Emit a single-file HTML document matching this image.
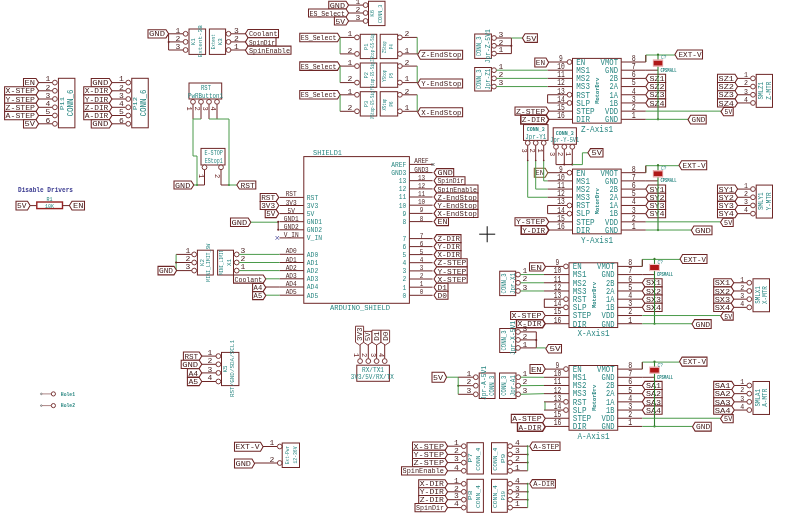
<!DOCTYPE html>
<html><head><meta charset="utf-8"><style>
html,body{margin:0;padding:0;background:#fff;}
svg{display:block;font-family:"Liberation Mono", monospace;filter:blur(0.3px);}
</style></head><body>
<svg width="800" height="524" viewBox="0 0 800 524">
<rect x="0" y="0" width="800" height="524" fill="#fff"/>
<polygon points="148,29.7 166,29.7 168.6,33.8 166,37.9 148,37.9" fill="#fff" stroke="#6e2626" stroke-width="1.05"/>
<text x="157" y="36.44" font-size="8.0" fill="#48201f" text-anchor="middle" textLength="16" lengthAdjust="spacingAndGlyphs">GND</text>
<line x1="168.6" y1="33.8" x2="183.2" y2="33.8" stroke="#6e2626" stroke-width="1.0"/>
<line x1="168.6" y1="33.8" x2="168.6" y2="50" stroke="#6e2626" stroke-width="1.0"/>
<line x1="168.6" y1="41.9" x2="183.2" y2="41.9" stroke="#6e2626" stroke-width="1.0"/>
<line x1="168.6" y1="50" x2="183.2" y2="50" stroke="#6e2626" stroke-width="1.0"/>
<circle cx="168.6" cy="41.9" r="1.0" fill="#6e2626"/>
<text x="178" y="32.6" font-size="8.0" fill="#4a1f1f" text-anchor="middle">1</text>
<circle cx="185.6" cy="33.8" r="2.4" fill="#fff" stroke="#6e2626" stroke-width="0.9"/>
<text x="178" y="40.7" font-size="8.0" fill="#4a1f1f" text-anchor="middle">2</text>
<circle cx="185.6" cy="41.9" r="2.4" fill="#fff" stroke="#6e2626" stroke-width="0.9"/>
<text x="178" y="48.8" font-size="8.0" fill="#4a1f1f" text-anchor="middle">3</text>
<circle cx="185.6" cy="50" r="2.4" fill="#fff" stroke="#6e2626" stroke-width="0.9"/>
<rect x="189" y="29" width="16.6" height="25.4" fill="none" stroke="#6e2626" stroke-width="1.0"/>
<text x="195.41" y="41.7" font-size="5.3" fill="#2a8782" text-anchor="middle" textLength="7" lengthAdjust="spacingAndGlyphs" transform="rotate(-90 195.41 41.7)">K1</text>
<text x="202.1" y="41.3" font-size="5.0" fill="#2a8782" text-anchor="middle" textLength="32" lengthAdjust="spacingAndGlyphs" transform="rotate(-90 202.1 41.3)">Extent-3B</text>
<rect x="209.4" y="29" width="16.2" height="25.4" fill="none" stroke="#6e2626" stroke-width="1.0"/>
<text x="214.8" y="41.7" font-size="5.0" fill="#2a8782" text-anchor="middle" textLength="15" lengthAdjust="spacingAndGlyphs" transform="rotate(-90 214.8 41.7)">Extent</text>
<text x="221.91" y="41.7" font-size="5.3" fill="#2a8782" text-anchor="middle" textLength="7" lengthAdjust="spacingAndGlyphs" transform="rotate(-90 221.91 41.7)">K3</text>
<circle cx="228.5" cy="33.8" r="2.4" fill="#fff" stroke="#6e2626" stroke-width="0.9"/>
<text x="236.5" y="32.6" font-size="8.0" fill="#4a1f1f" text-anchor="middle">3</text>
<line x1="230.9" y1="33.8" x2="245.6" y2="33.8" stroke="#6e2626" stroke-width="1.0"/>
<circle cx="228.5" cy="41.9" r="2.4" fill="#fff" stroke="#6e2626" stroke-width="0.9"/>
<text x="236.5" y="40.7" font-size="8.0" fill="#4a1f1f" text-anchor="middle">2</text>
<line x1="230.9" y1="41.9" x2="245.6" y2="41.9" stroke="#6e2626" stroke-width="1.0"/>
<circle cx="228.5" cy="50" r="2.4" fill="#fff" stroke="#6e2626" stroke-width="0.9"/>
<text x="236.5" y="48.8" font-size="8.0" fill="#4a1f1f" text-anchor="middle">1</text>
<line x1="230.9" y1="50" x2="245.6" y2="50" stroke="#6e2626" stroke-width="1.0"/>
<polygon points="245.4,33.5 248,29.4 278.5,29.4 278.5,37.6 248,37.6" fill="#fff" stroke="#6e2626" stroke-width="1.05"/>
<text x="263.25" y="36.14" font-size="8.0" fill="#48201f" text-anchor="middle" textLength="28.5" lengthAdjust="spacingAndGlyphs">Coolant</text>
<polygon points="245.4,41.9 248,37.8 276,37.8 276,46 248,46" fill="#fff" stroke="#6e2626" stroke-width="1.05"/>
<text x="262" y="44.54" font-size="8.0" fill="#48201f" text-anchor="middle" textLength="26" lengthAdjust="spacingAndGlyphs">SpinDir</text>
<polygon points="245.4,50.2 248,46.1 291,46.1 291,54.3 248,54.3" fill="#fff" stroke="#6e2626" stroke-width="1.05"/>
<text x="269.5" y="52.84" font-size="8.0" fill="#48201f" text-anchor="middle" textLength="41" lengthAdjust="spacingAndGlyphs">SpinEnable</text>
<polygon points="328.75,1.15 346,1.15 348.6,5.1 346,9.05 328.75,9.05" fill="#fff" stroke="#6e2626" stroke-width="1.05"/>
<text x="337.38" y="7.74" font-size="8.0" fill="#48201f" text-anchor="middle" textLength="15.25" lengthAdjust="spacingAndGlyphs">GND</text>
<line x1="348.6" y1="5.1" x2="363.2" y2="5.1" stroke="#6e2626" stroke-width="1.0"/>
<circle cx="365.6" cy="5.1" r="2.4" fill="#fff" stroke="#6e2626" stroke-width="0.9"/>
<polygon points="308.5,9.05 346,9.05 348.6,13 346,16.95 308.5,16.95" fill="#fff" stroke="#6e2626" stroke-width="1.05"/>
<text x="327.25" y="15.64" font-size="8.0" fill="#48201f" text-anchor="middle" textLength="35.5" lengthAdjust="spacingAndGlyphs">ES_Select</text>
<line x1="348.6" y1="13" x2="363.2" y2="13" stroke="#6e2626" stroke-width="1.0"/>
<circle cx="365.6" cy="13" r="2.4" fill="#fff" stroke="#6e2626" stroke-width="0.9"/>
<polygon points="334.4,17.05 346,17.05 348.6,21 346,24.95 334.4,24.95" fill="#fff" stroke="#6e2626" stroke-width="1.05"/>
<text x="340.2" y="23.64" font-size="8.0" fill="#48201f" text-anchor="middle" textLength="9.6" lengthAdjust="spacingAndGlyphs">5V</text>
<line x1="348.6" y1="21" x2="363.2" y2="21" stroke="#6e2626" stroke-width="1.0"/>
<circle cx="365.6" cy="21" r="2.4" fill="#fff" stroke="#6e2626" stroke-width="0.9"/>
<text x="358" y="4" font-size="8.0" fill="#4a1f1f" text-anchor="middle">1</text>
<text x="358" y="11.8" font-size="8.0" fill="#4a1f1f" text-anchor="middle">2</text>
<text x="358" y="19.8" font-size="8.0" fill="#4a1f1f" text-anchor="middle">3</text>
<rect x="368.5" y="1.25" width="16.5" height="24.35" fill="none" stroke="#6e2626" stroke-width="1.0"/>
<text x="374.47" y="13.3" font-size="5.2" fill="#2a8782" text-anchor="middle" textLength="7" lengthAdjust="spacingAndGlyphs" transform="rotate(-90 374.47 13.3)">K6</text>
<text x="382.22" y="13.8" font-size="5.6" fill="#2a8782" text-anchor="middle" textLength="18.3" lengthAdjust="spacingAndGlyphs" transform="rotate(-90 382.22 13.8)">CONN_3</text>
<polygon points="299.75,33.15 337.5,33.15 340.1,37.4 337.5,41.65 299.75,41.65" fill="#fff" stroke="#6e2626" stroke-width="1.05"/>
<text x="318.62" y="40.04" font-size="8.0" fill="#48201f" text-anchor="middle" textLength="35.75" lengthAdjust="spacingAndGlyphs">ES_Select</text>
<line x1="340.1" y1="37.4" x2="354.6" y2="37.4" stroke="#6e2626" stroke-width="1.0"/>
<line x1="340.1" y1="37.4" x2="340.1" y2="53.9" stroke="#4a9a4a" stroke-width="1.0"/>
<line x1="340.1" y1="53.9" x2="354.6" y2="53.9" stroke="#6e2626" stroke-width="1.0"/>
<text x="350" y="36.1" font-size="8.0" fill="#4a1f1f" text-anchor="middle">1</text>
<text x="350" y="52.6" font-size="8.0" fill="#4a1f1f" text-anchor="middle">2</text>
<circle cx="357" cy="37.4" r="2.4" fill="#fff" stroke="#6e2626" stroke-width="0.9"/>
<circle cx="357" cy="53.9" r="2.4" fill="#fff" stroke="#6e2626" stroke-width="0.9"/>
<rect x="360.25" y="34.3" width="16.5" height="24.3" fill="none" stroke="#6e2626" stroke-width="1.0"/>
<text x="368.37" y="46.65" font-size="5.2" fill="#2a8782" text-anchor="middle" textLength="6.5" lengthAdjust="spacingAndGlyphs" transform="rotate(-90 368.37 46.65)">P1</text>
<text x="373.86" y="47.65" font-size="4.6" fill="#2a8782" text-anchor="middle" textLength="28" lengthAdjust="spacingAndGlyphs" transform="rotate(-90 373.86 47.65)">ZStop-GS-Sig</text>
<rect x="380.2" y="34.3" width="17.5" height="24.3" fill="none" stroke="#6e2626" stroke-width="1.0"/>
<text x="386.26" y="47.15" font-size="4.6" fill="#2a8782" text-anchor="middle" textLength="12" lengthAdjust="spacingAndGlyphs" transform="rotate(-90 386.26 47.15)">ZStop</text>
<text x="393.5" y="46.65" font-size="5.0" fill="#2a8782" text-anchor="middle" textLength="5" lengthAdjust="spacingAndGlyphs" transform="rotate(-90 393.5 46.65)">P4</text>
<circle cx="399.9" cy="37.4" r="2.4" fill="#fff" stroke="#6e2626" stroke-width="0.9"/>
<circle cx="399.9" cy="53.9" r="2.4" fill="#fff" stroke="#6e2626" stroke-width="0.9"/>
<text x="407" y="36.1" font-size="8.0" fill="#4a1f1f" text-anchor="middle">2</text>
<text x="407" y="52.6" font-size="8.0" fill="#4a1f1f" text-anchor="middle">1</text>
<line x1="402.3" y1="37.4" x2="417.2" y2="37.4" stroke="#6e2626" stroke-width="1.0"/>
<line x1="417.2" y1="37.4" x2="417.2" y2="53.9" stroke="#4a9a4a" stroke-width="1.0"/>
<line x1="402.3" y1="53.9" x2="417.7" y2="53.9" stroke="#6e2626" stroke-width="1.0"/>
<polygon points="417.7,54.8 420.3,50.3 462.6,50.3 462.6,59.3 420.3,59.3" fill="#fff" stroke="#6e2626" stroke-width="1.05"/>
<text x="441.45" y="57.44" font-size="8.0" fill="#48201f" text-anchor="middle" textLength="40.3" lengthAdjust="spacingAndGlyphs">Z-EndStop</text>
<polygon points="299.75,61.85 337.5,61.85 340.1,66.1 337.5,70.35 299.75,70.35" fill="#fff" stroke="#6e2626" stroke-width="1.05"/>
<text x="318.62" y="68.74" font-size="8.0" fill="#48201f" text-anchor="middle" textLength="35.75" lengthAdjust="spacingAndGlyphs">ES_Select</text>
<line x1="340.1" y1="66.1" x2="354.6" y2="66.1" stroke="#6e2626" stroke-width="1.0"/>
<line x1="340.1" y1="66.1" x2="340.1" y2="82.6" stroke="#4a9a4a" stroke-width="1.0"/>
<line x1="340.1" y1="82.6" x2="354.6" y2="82.6" stroke="#6e2626" stroke-width="1.0"/>
<text x="350" y="64.8" font-size="8.0" fill="#4a1f1f" text-anchor="middle">1</text>
<text x="350" y="81.3" font-size="8.0" fill="#4a1f1f" text-anchor="middle">2</text>
<circle cx="357" cy="66.1" r="2.4" fill="#fff" stroke="#6e2626" stroke-width="0.9"/>
<circle cx="357" cy="82.6" r="2.4" fill="#fff" stroke="#6e2626" stroke-width="0.9"/>
<rect x="360.25" y="63" width="16.5" height="24.3" fill="none" stroke="#6e2626" stroke-width="1.0"/>
<text x="368.37" y="75.35" font-size="5.2" fill="#2a8782" text-anchor="middle" textLength="6.5" lengthAdjust="spacingAndGlyphs" transform="rotate(-90 368.37 75.35)">P2</text>
<text x="373.86" y="76.35" font-size="4.6" fill="#2a8782" text-anchor="middle" textLength="28" lengthAdjust="spacingAndGlyphs" transform="rotate(-90 373.86 76.35)">YStop-GS-Sig</text>
<rect x="380.2" y="63" width="17.5" height="24.3" fill="none" stroke="#6e2626" stroke-width="1.0"/>
<text x="386.26" y="75.85" font-size="4.6" fill="#2a8782" text-anchor="middle" textLength="12" lengthAdjust="spacingAndGlyphs" transform="rotate(-90 386.26 75.85)">YStop</text>
<text x="393.5" y="75.35" font-size="5.0" fill="#2a8782" text-anchor="middle" textLength="5" lengthAdjust="spacingAndGlyphs" transform="rotate(-90 393.5 75.35)">P5</text>
<circle cx="399.9" cy="66.1" r="2.4" fill="#fff" stroke="#6e2626" stroke-width="0.9"/>
<circle cx="399.9" cy="82.6" r="2.4" fill="#fff" stroke="#6e2626" stroke-width="0.9"/>
<text x="407" y="64.8" font-size="8.0" fill="#4a1f1f" text-anchor="middle">2</text>
<text x="407" y="81.3" font-size="8.0" fill="#4a1f1f" text-anchor="middle">1</text>
<line x1="402.3" y1="66.1" x2="417.2" y2="66.1" stroke="#6e2626" stroke-width="1.0"/>
<line x1="417.2" y1="66.1" x2="417.2" y2="82.6" stroke="#4a9a4a" stroke-width="1.0"/>
<line x1="402.3" y1="82.6" x2="417.7" y2="82.6" stroke="#6e2626" stroke-width="1.0"/>
<polygon points="417.7,83.5 420.3,79 462.6,79 462.6,88 420.3,88" fill="#fff" stroke="#6e2626" stroke-width="1.05"/>
<text x="441.45" y="86.14" font-size="8.0" fill="#48201f" text-anchor="middle" textLength="40.3" lengthAdjust="spacingAndGlyphs">Y-EndStop</text>
<polygon points="299.75,90.55 337.5,90.55 340.1,94.8 337.5,99.05 299.75,99.05" fill="#fff" stroke="#6e2626" stroke-width="1.05"/>
<text x="318.62" y="97.44" font-size="8.0" fill="#48201f" text-anchor="middle" textLength="35.75" lengthAdjust="spacingAndGlyphs">ES_Select</text>
<line x1="340.1" y1="94.8" x2="354.6" y2="94.8" stroke="#6e2626" stroke-width="1.0"/>
<line x1="340.1" y1="94.8" x2="340.1" y2="111.3" stroke="#4a9a4a" stroke-width="1.0"/>
<line x1="340.1" y1="111.3" x2="354.6" y2="111.3" stroke="#6e2626" stroke-width="1.0"/>
<text x="350" y="93.5" font-size="8.0" fill="#4a1f1f" text-anchor="middle">1</text>
<text x="350" y="110" font-size="8.0" fill="#4a1f1f" text-anchor="middle">2</text>
<circle cx="357" cy="94.8" r="2.4" fill="#fff" stroke="#6e2626" stroke-width="0.9"/>
<circle cx="357" cy="111.3" r="2.4" fill="#fff" stroke="#6e2626" stroke-width="0.9"/>
<rect x="360.25" y="91.7" width="16.5" height="24.3" fill="none" stroke="#6e2626" stroke-width="1.0"/>
<text x="368.37" y="104.05" font-size="5.2" fill="#2a8782" text-anchor="middle" textLength="6.5" lengthAdjust="spacingAndGlyphs" transform="rotate(-90 368.37 104.05)">P3</text>
<text x="373.86" y="105.05" font-size="4.6" fill="#2a8782" text-anchor="middle" textLength="28" lengthAdjust="spacingAndGlyphs" transform="rotate(-90 373.86 105.05)">XStop-GS-Sig</text>
<rect x="380.2" y="91.7" width="17.5" height="24.3" fill="none" stroke="#6e2626" stroke-width="1.0"/>
<text x="386.26" y="104.55" font-size="4.6" fill="#2a8782" text-anchor="middle" textLength="12" lengthAdjust="spacingAndGlyphs" transform="rotate(-90 386.26 104.55)">XStop</text>
<text x="393.5" y="104.05" font-size="5.0" fill="#2a8782" text-anchor="middle" textLength="5" lengthAdjust="spacingAndGlyphs" transform="rotate(-90 393.5 104.05)">P6</text>
<circle cx="399.9" cy="94.8" r="2.4" fill="#fff" stroke="#6e2626" stroke-width="0.9"/>
<circle cx="399.9" cy="111.3" r="2.4" fill="#fff" stroke="#6e2626" stroke-width="0.9"/>
<text x="407" y="93.5" font-size="8.0" fill="#4a1f1f" text-anchor="middle">2</text>
<text x="407" y="110" font-size="8.0" fill="#4a1f1f" text-anchor="middle">1</text>
<line x1="402.3" y1="94.8" x2="417.2" y2="94.8" stroke="#6e2626" stroke-width="1.0"/>
<line x1="417.2" y1="94.8" x2="417.2" y2="111.3" stroke="#4a9a4a" stroke-width="1.0"/>
<line x1="402.3" y1="111.3" x2="417.7" y2="111.3" stroke="#6e2626" stroke-width="1.0"/>
<polygon points="417.7,112.2 420.3,107.7 462.6,107.7 462.6,116.7 420.3,116.7" fill="#fff" stroke="#6e2626" stroke-width="1.05"/>
<text x="441.45" y="114.84" font-size="8.0" fill="#48201f" text-anchor="middle" textLength="40.3" lengthAdjust="spacingAndGlyphs">X-EndStop</text>
<polygon points="23.5,78.45 36,78.45 38.6,82.6 36,86.75 23.5,86.75" fill="#fff" stroke="#6e2626" stroke-width="1.05"/>
<text x="29.75" y="85.24" font-size="8.0" fill="#48201f" text-anchor="middle" textLength="10.5" lengthAdjust="spacingAndGlyphs">EN</text>
<line x1="38.6" y1="82.6" x2="52.5" y2="82.6" stroke="#6e2626" stroke-width="1.0"/>
<text x="48" y="81.3" font-size="8.0" fill="#4a1f1f" text-anchor="middle">1</text>
<circle cx="54.9" cy="82.6" r="2.4" fill="#fff" stroke="#6e2626" stroke-width="0.9"/>
<polygon points="4.6,86.65 36,86.65 38.6,90.8 36,94.95 4.6,94.95" fill="#fff" stroke="#6e2626" stroke-width="1.05"/>
<text x="20.3" y="93.44" font-size="8.0" fill="#48201f" text-anchor="middle" textLength="29.4" lengthAdjust="spacingAndGlyphs">X-STEP</text>
<line x1="38.6" y1="90.8" x2="52.5" y2="90.8" stroke="#6e2626" stroke-width="1.0"/>
<text x="48" y="89.5" font-size="8.0" fill="#4a1f1f" text-anchor="middle">2</text>
<circle cx="54.9" cy="90.8" r="2.4" fill="#fff" stroke="#6e2626" stroke-width="0.9"/>
<polygon points="4.6,94.85 36,94.85 38.6,99 36,103.15 4.6,103.15" fill="#fff" stroke="#6e2626" stroke-width="1.05"/>
<text x="20.3" y="101.64" font-size="8.0" fill="#48201f" text-anchor="middle" textLength="29.4" lengthAdjust="spacingAndGlyphs">Y-STEP</text>
<line x1="38.6" y1="99" x2="52.5" y2="99" stroke="#6e2626" stroke-width="1.0"/>
<text x="48" y="97.7" font-size="8.0" fill="#4a1f1f" text-anchor="middle">3</text>
<circle cx="54.9" cy="99" r="2.4" fill="#fff" stroke="#6e2626" stroke-width="0.9"/>
<polygon points="4.6,103.15 36,103.15 38.6,107.3 36,111.45 4.6,111.45" fill="#fff" stroke="#6e2626" stroke-width="1.05"/>
<text x="20.3" y="109.94" font-size="8.0" fill="#48201f" text-anchor="middle" textLength="29.4" lengthAdjust="spacingAndGlyphs">Z-STEP</text>
<line x1="38.6" y1="107.3" x2="52.5" y2="107.3" stroke="#6e2626" stroke-width="1.0"/>
<text x="48" y="106" font-size="8.0" fill="#4a1f1f" text-anchor="middle">4</text>
<circle cx="54.9" cy="107.3" r="2.4" fill="#fff" stroke="#6e2626" stroke-width="0.9"/>
<polygon points="4.6,111.35 36,111.35 38.6,115.5 36,119.65 4.6,119.65" fill="#fff" stroke="#6e2626" stroke-width="1.05"/>
<text x="20.3" y="118.14" font-size="8.0" fill="#48201f" text-anchor="middle" textLength="29.4" lengthAdjust="spacingAndGlyphs">A-STEP</text>
<line x1="38.6" y1="115.5" x2="52.5" y2="115.5" stroke="#6e2626" stroke-width="1.0"/>
<text x="48" y="114.2" font-size="8.0" fill="#4a1f1f" text-anchor="middle">5</text>
<circle cx="54.9" cy="115.5" r="2.4" fill="#fff" stroke="#6e2626" stroke-width="0.9"/>
<polygon points="23.5,119.65 36,119.65 38.6,123.8 36,127.95 23.5,127.95" fill="#fff" stroke="#6e2626" stroke-width="1.05"/>
<text x="29.75" y="126.44" font-size="8.0" fill="#48201f" text-anchor="middle" textLength="10.5" lengthAdjust="spacingAndGlyphs">5V</text>
<line x1="38.6" y1="123.8" x2="52.5" y2="123.8" stroke="#6e2626" stroke-width="1.0"/>
<text x="48" y="122.5" font-size="8.0" fill="#4a1f1f" text-anchor="middle">6</text>
<circle cx="54.9" cy="123.8" r="2.4" fill="#fff" stroke="#6e2626" stroke-width="0.9"/>
<rect x="58.4" y="78.3" width="16.5" height="49.5" fill="none" stroke="#6e2626" stroke-width="1.0"/>
<text x="63.76" y="103.5" font-size="6.0" fill="#2a8782" text-anchor="middle" textLength="13" lengthAdjust="spacingAndGlyphs" transform="rotate(-90 63.76 103.5)">P11</text>
<text x="72.74" y="103" font-size="9.0" fill="#2a8782" text-anchor="middle" textLength="27" lengthAdjust="spacingAndGlyphs" transform="rotate(-90 72.74 103)">CONN_6</text>
<polygon points="91.25,78.45 109.35,78.45 111.95,82.6 109.35,86.75 91.25,86.75" fill="#fff" stroke="#6e2626" stroke-width="1.05"/>
<text x="100.3" y="85.24" font-size="8.0" fill="#48201f" text-anchor="middle" textLength="16.1" lengthAdjust="spacingAndGlyphs">GND</text>
<line x1="111.95" y1="82.6" x2="125.85" y2="82.6" stroke="#6e2626" stroke-width="1.0"/>
<text x="121.35" y="81.3" font-size="8.0" fill="#4a1f1f" text-anchor="middle">1</text>
<circle cx="128.25" cy="82.6" r="2.4" fill="#fff" stroke="#6e2626" stroke-width="0.9"/>
<polygon points="83.75,86.65 109.35,86.65 111.95,90.8 109.35,94.95 83.75,94.95" fill="#fff" stroke="#6e2626" stroke-width="1.05"/>
<text x="96.55" y="93.44" font-size="8.0" fill="#48201f" text-anchor="middle" textLength="23.6" lengthAdjust="spacingAndGlyphs">X-DIR</text>
<line x1="111.95" y1="90.8" x2="125.85" y2="90.8" stroke="#6e2626" stroke-width="1.0"/>
<text x="121.35" y="89.5" font-size="8.0" fill="#4a1f1f" text-anchor="middle">2</text>
<circle cx="128.25" cy="90.8" r="2.4" fill="#fff" stroke="#6e2626" stroke-width="0.9"/>
<polygon points="83.75,94.85 109.35,94.85 111.95,99 109.35,103.15 83.75,103.15" fill="#fff" stroke="#6e2626" stroke-width="1.05"/>
<text x="96.55" y="101.64" font-size="8.0" fill="#48201f" text-anchor="middle" textLength="23.6" lengthAdjust="spacingAndGlyphs">Y-DIR</text>
<line x1="111.95" y1="99" x2="125.85" y2="99" stroke="#6e2626" stroke-width="1.0"/>
<text x="121.35" y="97.7" font-size="8.0" fill="#4a1f1f" text-anchor="middle">3</text>
<circle cx="128.25" cy="99" r="2.4" fill="#fff" stroke="#6e2626" stroke-width="0.9"/>
<polygon points="83.75,103.15 109.35,103.15 111.95,107.3 109.35,111.45 83.75,111.45" fill="#fff" stroke="#6e2626" stroke-width="1.05"/>
<text x="96.55" y="109.94" font-size="8.0" fill="#48201f" text-anchor="middle" textLength="23.6" lengthAdjust="spacingAndGlyphs">Z-DIR</text>
<line x1="111.95" y1="107.3" x2="125.85" y2="107.3" stroke="#6e2626" stroke-width="1.0"/>
<text x="121.35" y="106" font-size="8.0" fill="#4a1f1f" text-anchor="middle">4</text>
<circle cx="128.25" cy="107.3" r="2.4" fill="#fff" stroke="#6e2626" stroke-width="0.9"/>
<polygon points="83.75,111.35 109.35,111.35 111.95,115.5 109.35,119.65 83.75,119.65" fill="#fff" stroke="#6e2626" stroke-width="1.05"/>
<text x="96.55" y="118.14" font-size="8.0" fill="#48201f" text-anchor="middle" textLength="23.6" lengthAdjust="spacingAndGlyphs">A-DIR</text>
<line x1="111.95" y1="115.5" x2="125.85" y2="115.5" stroke="#6e2626" stroke-width="1.0"/>
<text x="121.35" y="114.2" font-size="8.0" fill="#4a1f1f" text-anchor="middle">5</text>
<circle cx="128.25" cy="115.5" r="2.4" fill="#fff" stroke="#6e2626" stroke-width="0.9"/>
<polygon points="91.25,119.65 109.35,119.65 111.95,123.8 109.35,127.95 91.25,127.95" fill="#fff" stroke="#6e2626" stroke-width="1.05"/>
<text x="100.3" y="126.44" font-size="8.0" fill="#48201f" text-anchor="middle" textLength="16.1" lengthAdjust="spacingAndGlyphs">GND</text>
<line x1="111.95" y1="123.8" x2="125.85" y2="123.8" stroke="#6e2626" stroke-width="1.0"/>
<text x="121.35" y="122.5" font-size="8.0" fill="#4a1f1f" text-anchor="middle">6</text>
<circle cx="128.25" cy="123.8" r="2.4" fill="#fff" stroke="#6e2626" stroke-width="0.9"/>
<rect x="131.75" y="78.3" width="16.5" height="49.5" fill="none" stroke="#6e2626" stroke-width="1.0"/>
<text x="137.11" y="103.5" font-size="6.0" fill="#2a8782" text-anchor="middle" textLength="13" lengthAdjust="spacingAndGlyphs" transform="rotate(-90 137.11 103.5)">P12</text>
<text x="146.09" y="103" font-size="9.0" fill="#2a8782" text-anchor="middle" textLength="27" lengthAdjust="spacingAndGlyphs" transform="rotate(-90 146.09 103)">CONN_6</text>
<text x="18" y="191.9" font-size="6.6" fill="#3a3a90" text-anchor="start" textLength="55" lengthAdjust="spacingAndGlyphs" font-weight="bold">Disable Drivers</text>
<polygon points="16,201.2 27.5,201.2 30.1,205.6 27.5,210 16,210" fill="#fff" stroke="#6e2626" stroke-width="1.05"/>
<text x="21.75" y="208.24" font-size="8.0" fill="#48201f" text-anchor="middle" textLength="9.5" lengthAdjust="spacingAndGlyphs">5V</text>
<line x1="30.1" y1="205.6" x2="36.8" y2="205.6" stroke="#6e2626" stroke-width="1.0"/>
<rect x="36.8" y="202" width="25.7" height="6.6" fill="none" stroke="#962222" stroke-width="1.4"/>
<text x="49.6" y="207.6" font-size="6" fill="#2a8782" text-anchor="middle" textLength="9" lengthAdjust="spacingAndGlyphs">10K</text>
<text x="49.6" y="200.6" font-size="6" fill="#2a8782" text-anchor="middle" textLength="6" lengthAdjust="spacingAndGlyphs">R1</text>
<line x1="62.5" y1="205.6" x2="69.6" y2="205.6" stroke="#6e2626" stroke-width="1.0"/>
<polygon points="69.4,205.6 72,201.2 84.5,201.2 84.5,210 72,210" fill="#fff" stroke="#6e2626" stroke-width="1.05"/>
<text x="78.25" y="208.24" font-size="8.0" fill="#48201f" text-anchor="middle" textLength="10.5" lengthAdjust="spacingAndGlyphs">EN</text>
<rect x="189" y="83" width="32.7" height="16" fill="none" stroke="#6e2626" stroke-width="1.0"/>
<text x="206" y="89.8" font-size="7" fill="#2a8782" text-anchor="middle" textLength="10" lengthAdjust="spacingAndGlyphs">RST</text>
<text x="205.4" y="97.8" font-size="6.4" fill="#2a8782" text-anchor="middle" textLength="35" lengthAdjust="spacingAndGlyphs">PwRButton1</text>
<circle cx="193" cy="101.8" r="2.4" fill="#fff" stroke="#6e2626" stroke-width="0.9"/>
<line x1="193" y1="104.2" x2="193" y2="119" stroke="#6e2626" stroke-width="1.0"/>
<text x="187.1" y="108.5" font-size="7.0" fill="#6e2626" text-anchor="middle" transform="rotate(90 187.1 108.5)">1</text>
<circle cx="201" cy="101.8" r="2.4" fill="#fff" stroke="#6e2626" stroke-width="0.9"/>
<line x1="201" y1="104.2" x2="201" y2="119" stroke="#6e2626" stroke-width="1.0"/>
<text x="195.1" y="108.5" font-size="7.0" fill="#6e2626" text-anchor="middle" transform="rotate(90 195.1 108.5)">2</text>
<circle cx="209" cy="101.8" r="2.4" fill="#fff" stroke="#6e2626" stroke-width="0.9"/>
<line x1="209" y1="104.2" x2="209" y2="119" stroke="#6e2626" stroke-width="1.0"/>
<text x="203.1" y="108.5" font-size="7.0" fill="#6e2626" text-anchor="middle" transform="rotate(90 203.1 108.5)">3</text>
<circle cx="217" cy="101.8" r="2.4" fill="#fff" stroke="#6e2626" stroke-width="0.9"/>
<line x1="217" y1="104.2" x2="217" y2="119" stroke="#6e2626" stroke-width="1.0"/>
<text x="211.1" y="108.5" font-size="7.0" fill="#6e2626" text-anchor="middle" transform="rotate(90 211.1 108.5)">4</text>
<line x1="193" y1="119" x2="201" y2="119" stroke="#4a9a4a" stroke-width="1.0"/>
<line x1="209" y1="119" x2="229" y2="119" stroke="#4a9a4a" stroke-width="1.0"/>
<line x1="193" y1="119" x2="193" y2="156" stroke="#4a9a4a" stroke-width="1.0"/>
<line x1="193" y1="156" x2="197" y2="156" stroke="#4a9a4a" stroke-width="1.0"/>
<line x1="197" y1="156" x2="197" y2="185" stroke="#4a9a4a" stroke-width="1.0"/>
<line x1="229" y1="119" x2="229" y2="185" stroke="#4a9a4a" stroke-width="1.0"/>
<rect x="201" y="148.4" width="24" height="16.6" fill="none" stroke="#6e2626" stroke-width="1.0"/>
<text x="213.7" y="155.2" font-size="7" fill="#2a8782" text-anchor="middle" textLength="18.5" lengthAdjust="spacingAndGlyphs">E-STOP</text>
<text x="213.7" y="162.6" font-size="6.4" fill="#2a8782" text-anchor="middle" textLength="18" lengthAdjust="spacingAndGlyphs">EStop1</text>
<circle cx="204.5" cy="167.3" r="2.4" fill="#fff" stroke="#6e2626" stroke-width="0.9"/>
<circle cx="221" cy="167.3" r="2.4" fill="#fff" stroke="#6e2626" stroke-width="0.9"/>
<text x="198.6" y="176" font-size="7" fill="#6e2626" text-anchor="middle" transform="rotate(90 198.6 176)">1</text>
<text x="215.1" y="176" font-size="7" fill="#6e2626" text-anchor="middle" transform="rotate(90 215.1 176)">2</text>
<polyline points="204.5,169.7 204.5,185 197,185" fill="none" stroke="#6e2626" stroke-width="1.0"/>
<polyline points="221,169.7 221,185 229,185" fill="none" stroke="#6e2626" stroke-width="1.0"/>
<line x1="191.8" y1="185" x2="197" y2="185" stroke="#4a9a4a" stroke-width="1.0"/>
<line x1="229" y1="185" x2="236.8" y2="185" stroke="#4a9a4a" stroke-width="1.0"/>
<circle cx="197" cy="185" r="1.1" fill="#4a9a4a"/>
<circle cx="229" cy="185" r="1.1" fill="#4a9a4a"/>
<polygon points="174,181 191.2,181 193.8,185 191.2,189 174,189" fill="#fff" stroke="#6e2626" stroke-width="1.05"/>
<text x="182.6" y="187.64" font-size="8.0" fill="#48201f" text-anchor="middle" textLength="15.2" lengthAdjust="spacingAndGlyphs">GND</text>
<polygon points="236.8,185 239.4,181 255.8,181 255.8,189 239.4,189" fill="#fff" stroke="#6e2626" stroke-width="1.05"/>
<text x="247.6" y="187.64" font-size="8.0" fill="#48201f" text-anchor="middle" textLength="14.4" lengthAdjust="spacingAndGlyphs">RST</text>
<rect x="303.8" y="156.6" width="105.6" height="146.7" fill="none" stroke="#6e2626" stroke-width="1.0"/>
<text x="313" y="154.8" font-size="7.6" fill="#2a8782" text-anchor="start" textLength="29" lengthAdjust="spacingAndGlyphs">SHIELD1</text>
<text x="360" y="310.3" font-size="7.6" fill="#2a8782" text-anchor="middle" textLength="60" lengthAdjust="spacingAndGlyphs">ARDUINO_SHIELD</text>
<line x1="279.5" y1="197.4" x2="303.8" y2="197.4" stroke="#6e2626" stroke-width="1.0"/>
<text x="291.2" y="196.4" font-size="6.4" fill="#4a1f1f" text-anchor="middle" textLength="11.1" lengthAdjust="spacingAndGlyphs">RST</text>
<text x="306.8" y="199.8" font-size="6.9" fill="#2a8782" text-anchor="start" textLength="11.4" lengthAdjust="spacingAndGlyphs">RST</text>
<line x1="279.5" y1="205.5" x2="303.8" y2="205.5" stroke="#6e2626" stroke-width="1.0"/>
<text x="291.2" y="204.5" font-size="6.4" fill="#4a1f1f" text-anchor="middle" textLength="11.1" lengthAdjust="spacingAndGlyphs">3V3</text>
<text x="306.8" y="207.9" font-size="6.9" fill="#2a8782" text-anchor="start" textLength="11.4" lengthAdjust="spacingAndGlyphs">3V3</text>
<line x1="279.5" y1="213.6" x2="303.8" y2="213.6" stroke="#6e2626" stroke-width="1.0"/>
<text x="291.2" y="212.6" font-size="6.4" fill="#4a1f1f" text-anchor="middle" textLength="7.4" lengthAdjust="spacingAndGlyphs">5V</text>
<text x="306.8" y="216" font-size="6.9" fill="#2a8782" text-anchor="start" textLength="7.6" lengthAdjust="spacingAndGlyphs">5V</text>
<line x1="279.5" y1="221.7" x2="303.8" y2="221.7" stroke="#6e2626" stroke-width="1.0"/>
<text x="291.2" y="220.7" font-size="6.4" fill="#4a1f1f" text-anchor="middle" textLength="14.8" lengthAdjust="spacingAndGlyphs">GND1</text>
<text x="306.8" y="224.1" font-size="6.9" fill="#2a8782" text-anchor="start" textLength="15.2" lengthAdjust="spacingAndGlyphs">GND1</text>
<line x1="279.5" y1="229.8" x2="303.8" y2="229.8" stroke="#6e2626" stroke-width="1.0"/>
<text x="291.2" y="228.8" font-size="6.4" fill="#4a1f1f" text-anchor="middle" textLength="14.8" lengthAdjust="spacingAndGlyphs">GND2</text>
<text x="306.8" y="232.2" font-size="6.9" fill="#2a8782" text-anchor="start" textLength="15.2" lengthAdjust="spacingAndGlyphs">GND2</text>
<line x1="279.5" y1="237.9" x2="303.8" y2="237.9" stroke="#6e2626" stroke-width="1.0"/>
<text x="291.2" y="236.9" font-size="6.4" fill="#4a1f1f" text-anchor="middle" textLength="14.8" lengthAdjust="spacingAndGlyphs">V_IN</text>
<text x="306.8" y="240.3" font-size="6.9" fill="#2a8782" text-anchor="start" textLength="15.2" lengthAdjust="spacingAndGlyphs">V_IN</text>
<line x1="279.5" y1="254.3" x2="303.8" y2="254.3" stroke="#6e2626" stroke-width="1.0"/>
<text x="291.2" y="253.3" font-size="6.4" fill="#4a1f1f" text-anchor="middle" textLength="11.1" lengthAdjust="spacingAndGlyphs">AD0</text>
<text x="306.8" y="256.7" font-size="6.9" fill="#2a8782" text-anchor="start" textLength="11.4" lengthAdjust="spacingAndGlyphs">AD0</text>
<line x1="279.5" y1="262.5" x2="303.8" y2="262.5" stroke="#6e2626" stroke-width="1.0"/>
<text x="291.2" y="261.5" font-size="6.4" fill="#4a1f1f" text-anchor="middle" textLength="11.1" lengthAdjust="spacingAndGlyphs">AD1</text>
<text x="306.8" y="264.9" font-size="6.9" fill="#2a8782" text-anchor="start" textLength="11.4" lengthAdjust="spacingAndGlyphs">AD1</text>
<line x1="279.5" y1="270.6" x2="303.8" y2="270.6" stroke="#6e2626" stroke-width="1.0"/>
<text x="291.2" y="269.6" font-size="6.4" fill="#4a1f1f" text-anchor="middle" textLength="11.1" lengthAdjust="spacingAndGlyphs">AD2</text>
<text x="306.8" y="273" font-size="6.9" fill="#2a8782" text-anchor="start" textLength="11.4" lengthAdjust="spacingAndGlyphs">AD2</text>
<line x1="279.5" y1="278.8" x2="303.8" y2="278.8" stroke="#6e2626" stroke-width="1.0"/>
<text x="291.2" y="277.8" font-size="6.4" fill="#4a1f1f" text-anchor="middle" textLength="11.1" lengthAdjust="spacingAndGlyphs">AD3</text>
<text x="306.8" y="281.2" font-size="6.9" fill="#2a8782" text-anchor="start" textLength="11.4" lengthAdjust="spacingAndGlyphs">AD3</text>
<line x1="279.5" y1="287" x2="303.8" y2="287" stroke="#6e2626" stroke-width="1.0"/>
<text x="291.2" y="286" font-size="6.4" fill="#4a1f1f" text-anchor="middle" textLength="11.1" lengthAdjust="spacingAndGlyphs">AD4</text>
<text x="306.8" y="289.4" font-size="6.9" fill="#2a8782" text-anchor="start" textLength="11.4" lengthAdjust="spacingAndGlyphs">AD4</text>
<line x1="279.5" y1="295.2" x2="303.8" y2="295.2" stroke="#6e2626" stroke-width="1.0"/>
<text x="291.2" y="294.2" font-size="6.4" fill="#4a1f1f" text-anchor="middle" textLength="11.1" lengthAdjust="spacingAndGlyphs">AD5</text>
<text x="306.8" y="297.6" font-size="6.9" fill="#2a8782" text-anchor="start" textLength="11.4" lengthAdjust="spacingAndGlyphs">AD5</text>
<line x1="409.4" y1="164.4" x2="432.6" y2="164.4" stroke="#6e2626" stroke-width="1.0"/>
<text x="421.5" y="163.4" font-size="6.8" fill="#4a1f1f" text-anchor="middle" textLength="14.4" lengthAdjust="spacingAndGlyphs">AREF</text>
<text x="406.2" y="166.8" font-size="6.9" fill="#2a8782" text-anchor="end" textLength="15" lengthAdjust="spacingAndGlyphs">AREF</text>
<line x1="409.4" y1="172.6" x2="432.6" y2="172.6" stroke="#6e2626" stroke-width="1.0"/>
<text x="421.5" y="171.6" font-size="6.8" fill="#4a1f1f" text-anchor="middle" textLength="14.4" lengthAdjust="spacingAndGlyphs">GND3</text>
<text x="406.2" y="175" font-size="6.9" fill="#2a8782" text-anchor="end" textLength="15" lengthAdjust="spacingAndGlyphs">GND3</text>
<line x1="409.4" y1="180.7" x2="432.6" y2="180.7" stroke="#6e2626" stroke-width="1.0"/>
<text x="421.5" y="179.7" font-size="6.8" fill="#4a1f1f" text-anchor="middle" textLength="7.2" lengthAdjust="spacingAndGlyphs">13</text>
<text x="406.2" y="183.1" font-size="6.9" fill="#2a8782" text-anchor="end" textLength="7.5" lengthAdjust="spacingAndGlyphs">13</text>
<line x1="409.4" y1="188.9" x2="432.6" y2="188.9" stroke="#6e2626" stroke-width="1.0"/>
<text x="421.5" y="187.9" font-size="6.8" fill="#4a1f1f" text-anchor="middle" textLength="7.2" lengthAdjust="spacingAndGlyphs">12</text>
<text x="406.2" y="191.3" font-size="6.9" fill="#2a8782" text-anchor="end" textLength="7.5" lengthAdjust="spacingAndGlyphs">12</text>
<line x1="409.4" y1="197" x2="432.6" y2="197" stroke="#6e2626" stroke-width="1.0"/>
<text x="421.5" y="196" font-size="6.8" fill="#4a1f1f" text-anchor="middle" textLength="7.2" lengthAdjust="spacingAndGlyphs">11</text>
<text x="406.2" y="199.4" font-size="6.9" fill="#2a8782" text-anchor="end" textLength="7.5" lengthAdjust="spacingAndGlyphs">11</text>
<line x1="409.4" y1="205.2" x2="432.6" y2="205.2" stroke="#6e2626" stroke-width="1.0"/>
<text x="421.5" y="204.2" font-size="6.8" fill="#4a1f1f" text-anchor="middle" textLength="7.2" lengthAdjust="spacingAndGlyphs">10</text>
<text x="406.2" y="207.6" font-size="6.9" fill="#2a8782" text-anchor="end" textLength="7.5" lengthAdjust="spacingAndGlyphs">10</text>
<line x1="409.4" y1="213.4" x2="432.6" y2="213.4" stroke="#6e2626" stroke-width="1.0"/>
<text x="421.5" y="212.4" font-size="6.8" fill="#4a1f1f" text-anchor="middle" textLength="3.6" lengthAdjust="spacingAndGlyphs">9</text>
<text x="406.2" y="215.8" font-size="6.9" fill="#2a8782" text-anchor="end" textLength="3.75" lengthAdjust="spacingAndGlyphs">9</text>
<line x1="409.4" y1="221.6" x2="432.6" y2="221.6" stroke="#6e2626" stroke-width="1.0"/>
<text x="421.5" y="220.6" font-size="6.8" fill="#4a1f1f" text-anchor="middle" textLength="3.6" lengthAdjust="spacingAndGlyphs">8</text>
<text x="406.2" y="224" font-size="6.9" fill="#2a8782" text-anchor="end" textLength="3.75" lengthAdjust="spacingAndGlyphs">8</text>
<line x1="409.4" y1="238.6" x2="432.6" y2="238.6" stroke="#6e2626" stroke-width="1.0"/>
<text x="421.5" y="237.6" font-size="6.8" fill="#4a1f1f" text-anchor="middle" textLength="3.6" lengthAdjust="spacingAndGlyphs">7</text>
<text x="406.2" y="241" font-size="6.9" fill="#2a8782" text-anchor="end" textLength="3.75" lengthAdjust="spacingAndGlyphs">7</text>
<line x1="409.4" y1="246.6" x2="432.6" y2="246.6" stroke="#6e2626" stroke-width="1.0"/>
<text x="421.5" y="245.6" font-size="6.8" fill="#4a1f1f" text-anchor="middle" textLength="3.6" lengthAdjust="spacingAndGlyphs">6</text>
<text x="406.2" y="249" font-size="6.9" fill="#2a8782" text-anchor="end" textLength="3.75" lengthAdjust="spacingAndGlyphs">6</text>
<line x1="409.4" y1="254.6" x2="432.6" y2="254.6" stroke="#6e2626" stroke-width="1.0"/>
<text x="421.5" y="253.6" font-size="6.8" fill="#4a1f1f" text-anchor="middle" textLength="3.6" lengthAdjust="spacingAndGlyphs">5</text>
<text x="406.2" y="257" font-size="6.9" fill="#2a8782" text-anchor="end" textLength="3.75" lengthAdjust="spacingAndGlyphs">5</text>
<line x1="409.4" y1="262.7" x2="432.6" y2="262.7" stroke="#6e2626" stroke-width="1.0"/>
<text x="421.5" y="261.7" font-size="6.8" fill="#4a1f1f" text-anchor="middle" textLength="3.6" lengthAdjust="spacingAndGlyphs">4</text>
<text x="406.2" y="265.1" font-size="6.9" fill="#2a8782" text-anchor="end" textLength="3.75" lengthAdjust="spacingAndGlyphs">4</text>
<line x1="409.4" y1="270.9" x2="432.6" y2="270.9" stroke="#6e2626" stroke-width="1.0"/>
<text x="421.5" y="269.9" font-size="6.8" fill="#4a1f1f" text-anchor="middle" textLength="3.6" lengthAdjust="spacingAndGlyphs">3</text>
<text x="406.2" y="273.3" font-size="6.9" fill="#2a8782" text-anchor="end" textLength="3.75" lengthAdjust="spacingAndGlyphs">3</text>
<line x1="409.4" y1="279" x2="432.6" y2="279" stroke="#6e2626" stroke-width="1.0"/>
<text x="421.5" y="278" font-size="6.8" fill="#4a1f1f" text-anchor="middle" textLength="3.6" lengthAdjust="spacingAndGlyphs">2</text>
<text x="406.2" y="281.4" font-size="6.9" fill="#2a8782" text-anchor="end" textLength="3.75" lengthAdjust="spacingAndGlyphs">2</text>
<line x1="409.4" y1="287.2" x2="432.6" y2="287.2" stroke="#6e2626" stroke-width="1.0"/>
<text x="421.5" y="286.2" font-size="6.8" fill="#4a1f1f" text-anchor="middle" textLength="3.6" lengthAdjust="spacingAndGlyphs">1</text>
<text x="406.2" y="289.6" font-size="6.9" fill="#2a8782" text-anchor="end" textLength="3.75" lengthAdjust="spacingAndGlyphs">1</text>
<line x1="409.4" y1="295.3" x2="432.6" y2="295.3" stroke="#6e2626" stroke-width="1.0"/>
<text x="421.5" y="294.3" font-size="6.8" fill="#4a1f1f" text-anchor="middle" textLength="3.6" lengthAdjust="spacingAndGlyphs">0</text>
<text x="406.2" y="297.7" font-size="6.9" fill="#2a8782" text-anchor="end" textLength="3.75" lengthAdjust="spacingAndGlyphs">0</text>
<line x1="431.5" y1="163" x2="434.5" y2="166" stroke="#333" stroke-width="0.7"/>
<line x1="431.5" y1="166" x2="434.5" y2="163" stroke="#333" stroke-width="0.7"/>
<polygon points="434,172.6 436.6,168.6 453.7,168.6 453.7,176.6 436.6,176.6" fill="#fff" stroke="#6e2626" stroke-width="1.05"/>
<text x="445.15" y="175.24" font-size="8.0" fill="#48201f" text-anchor="middle" textLength="15.1" lengthAdjust="spacingAndGlyphs">GND</text>
<polygon points="434,180.7 436.6,176.7 465,176.7 465,184.7 436.6,184.7" fill="#fff" stroke="#6e2626" stroke-width="1.05"/>
<text x="450.8" y="183.34" font-size="8.0" fill="#48201f" text-anchor="middle" textLength="26.4" lengthAdjust="spacingAndGlyphs">SpinDir</text>
<polygon points="434,188.9 436.6,184.9 478,184.9 478,192.9 436.6,192.9" fill="#fff" stroke="#6e2626" stroke-width="1.05"/>
<text x="457.3" y="191.54" font-size="8.0" fill="#48201f" text-anchor="middle" textLength="39.4" lengthAdjust="spacingAndGlyphs">SpinEnable</text>
<polygon points="434,197 436.6,193 478,193 478,201 436.6,201" fill="#fff" stroke="#6e2626" stroke-width="1.05"/>
<text x="457.3" y="199.64" font-size="8.0" fill="#48201f" text-anchor="middle" textLength="39.4" lengthAdjust="spacingAndGlyphs">Z-EndStop</text>
<polygon points="434,205.2 436.6,201.2 478,201.2 478,209.2 436.6,209.2" fill="#fff" stroke="#6e2626" stroke-width="1.05"/>
<text x="457.3" y="207.84" font-size="8.0" fill="#48201f" text-anchor="middle" textLength="39.4" lengthAdjust="spacingAndGlyphs">Y-EndStop</text>
<polygon points="434,213.4 436.6,209.4 478,209.4 478,217.4 436.6,217.4" fill="#fff" stroke="#6e2626" stroke-width="1.05"/>
<text x="457.3" y="216.04" font-size="8.0" fill="#48201f" text-anchor="middle" textLength="39.4" lengthAdjust="spacingAndGlyphs">X-EndStop</text>
<polygon points="434,221.6 436.6,217.6 448.5,217.6 448.5,225.6 436.6,225.6" fill="#fff" stroke="#6e2626" stroke-width="1.05"/>
<text x="442.55" y="224.24" font-size="8.0" fill="#48201f" text-anchor="middle" textLength="9.9" lengthAdjust="spacingAndGlyphs">EN</text>
<polygon points="434,238.6 436.6,234.6 461,234.6 461,242.6 436.6,242.6" fill="#fff" stroke="#6e2626" stroke-width="1.05"/>
<text x="448.8" y="241.24" font-size="8.0" fill="#48201f" text-anchor="middle" textLength="22.4" lengthAdjust="spacingAndGlyphs">Z-DIR</text>
<polygon points="434,246.6 436.6,242.6 461,242.6 461,250.6 436.6,250.6" fill="#fff" stroke="#6e2626" stroke-width="1.05"/>
<text x="448.8" y="249.24" font-size="8.0" fill="#48201f" text-anchor="middle" textLength="22.4" lengthAdjust="spacingAndGlyphs">Y-DIR</text>
<polygon points="434,254.6 436.6,250.6 461,250.6 461,258.6 436.6,258.6" fill="#fff" stroke="#6e2626" stroke-width="1.05"/>
<text x="448.8" y="257.24" font-size="8.0" fill="#48201f" text-anchor="middle" textLength="22.4" lengthAdjust="spacingAndGlyphs">X-DIR</text>
<polygon points="434,262.7 436.6,258.7 467.2,258.7 467.2,266.7 436.6,266.7" fill="#fff" stroke="#6e2626" stroke-width="1.05"/>
<text x="451.9" y="265.34" font-size="8.0" fill="#48201f" text-anchor="middle" textLength="28.6" lengthAdjust="spacingAndGlyphs">Z-STEP</text>
<polygon points="434,270.9 436.6,266.9 467.2,266.9 467.2,274.9 436.6,274.9" fill="#fff" stroke="#6e2626" stroke-width="1.05"/>
<text x="451.9" y="273.54" font-size="8.0" fill="#48201f" text-anchor="middle" textLength="28.6" lengthAdjust="spacingAndGlyphs">Y-STEP</text>
<polygon points="434,279 436.6,275 467.2,275 467.2,283 436.6,283" fill="#fff" stroke="#6e2626" stroke-width="1.05"/>
<text x="451.9" y="281.64" font-size="8.0" fill="#48201f" text-anchor="middle" textLength="28.6" lengthAdjust="spacingAndGlyphs">X-STEP</text>
<polygon points="434,287.2 436.6,283.2 448,283.2 448,291.2 436.6,291.2" fill="#fff" stroke="#6e2626" stroke-width="1.05"/>
<text x="442.3" y="289.84" font-size="8.0" fill="#48201f" text-anchor="middle" textLength="9.4" lengthAdjust="spacingAndGlyphs">D1</text>
<polygon points="434,295.3 436.6,291.3 448,291.3 448,299.3 436.6,299.3" fill="#fff" stroke="#6e2626" stroke-width="1.05"/>
<text x="442.3" y="297.94" font-size="8.0" fill="#48201f" text-anchor="middle" textLength="9.4" lengthAdjust="spacingAndGlyphs">D0</text>
<polygon points="260.2,193.4 276.2,193.4 278.8,197.4 276.2,201.4 260.2,201.4" fill="#fff" stroke="#6e2626" stroke-width="1.05"/>
<text x="268.2" y="200.04" font-size="8.0" fill="#48201f" text-anchor="middle" textLength="14" lengthAdjust="spacingAndGlyphs">RST</text>
<polygon points="260.2,201.5 276.2,201.5 278.8,205.5 276.2,209.5 260.2,209.5" fill="#fff" stroke="#6e2626" stroke-width="1.05"/>
<text x="268.2" y="208.14" font-size="8.0" fill="#48201f" text-anchor="middle" textLength="14" lengthAdjust="spacingAndGlyphs">3V3</text>
<polygon points="265.2,209.6 276.2,209.6 278.8,213.6 276.2,217.6 265.2,217.6" fill="#fff" stroke="#6e2626" stroke-width="1.05"/>
<text x="270.7" y="216.24" font-size="8.0" fill="#48201f" text-anchor="middle" textLength="9" lengthAdjust="spacingAndGlyphs">5V</text>
<polygon points="230.5,217.9 248.2,217.9 250.8,222.2 248.2,226.5 230.5,226.5" fill="#fff" stroke="#6e2626" stroke-width="1.05"/>
<text x="239.35" y="224.84" font-size="8.0" fill="#48201f" text-anchor="middle" textLength="15.7" lengthAdjust="spacingAndGlyphs">GND</text>
<line x1="250.8" y1="222.2" x2="278.2" y2="222.2" stroke="#4a9a4a" stroke-width="1.0"/>
<line x1="278.2" y1="221.7" x2="278.2" y2="229.8" stroke="#6e2626" stroke-width="1.0"/>
<circle cx="278.2" cy="221.7" r="1.0" fill="#6e2626"/>
<circle cx="278.2" cy="229.8" r="1.0" fill="#6e2626"/>
<line x1="275.5" y1="236" x2="279" y2="239.8" stroke="#3a3a90" stroke-width="0.7"/>
<line x1="275.5" y1="239.8" x2="279" y2="236" stroke="#3a3a90" stroke-width="0.7"/>
<circle cx="194.2" cy="254.4" r="2.4" fill="#fff" stroke="#6e2626" stroke-width="0.9"/>
<text x="188" y="253.2" font-size="8.0" fill="#4a1f1f" text-anchor="middle">1</text>
<line x1="176.1" y1="254.4" x2="191.8" y2="254.4" stroke="#6e2626" stroke-width="1.0"/>
<circle cx="236.7" cy="254.4" r="2.4" fill="#fff" stroke="#6e2626" stroke-width="0.9"/>
<text x="243" y="253.2" font-size="8.0" fill="#4a1f1f" text-anchor="middle">3</text>
<line x1="239.1" y1="254.4" x2="279.5" y2="254.4" stroke="#4a9a4a" stroke-width="1.0"/>
<circle cx="194.2" cy="262.5" r="2.4" fill="#fff" stroke="#6e2626" stroke-width="0.9"/>
<text x="188" y="261.3" font-size="8.0" fill="#4a1f1f" text-anchor="middle">2</text>
<line x1="176.1" y1="262.5" x2="191.8" y2="262.5" stroke="#6e2626" stroke-width="1.0"/>
<circle cx="236.7" cy="262.5" r="2.4" fill="#fff" stroke="#6e2626" stroke-width="0.9"/>
<text x="243" y="261.3" font-size="8.0" fill="#4a1f1f" text-anchor="middle">2</text>
<line x1="239.1" y1="262.5" x2="279.5" y2="262.5" stroke="#4a9a4a" stroke-width="1.0"/>
<circle cx="194.2" cy="270.6" r="2.4" fill="#fff" stroke="#6e2626" stroke-width="0.9"/>
<text x="188" y="269.4" font-size="8.0" fill="#4a1f1f" text-anchor="middle">3</text>
<line x1="176.1" y1="270.6" x2="191.8" y2="270.6" stroke="#6e2626" stroke-width="1.0"/>
<circle cx="236.7" cy="270.6" r="2.4" fill="#fff" stroke="#6e2626" stroke-width="0.9"/>
<text x="243" y="269.4" font-size="8.0" fill="#4a1f1f" text-anchor="middle">1</text>
<line x1="239.1" y1="270.6" x2="279.5" y2="270.6" stroke="#4a9a4a" stroke-width="1.0"/>
<line x1="176.1" y1="254.4" x2="176.1" y2="270.6" stroke="#4a9a4a" stroke-width="1.0"/>
<circle cx="176.1" cy="262.5" r="1.0" fill="#6e2626"/>
<polygon points="158,266.35 174,266.35 176.6,270.6 174,274.85 158,274.85" fill="#fff" stroke="#6e2626" stroke-width="1.05"/>
<text x="166" y="273.24" font-size="8.0" fill="#48201f" text-anchor="middle" textLength="14" lengthAdjust="spacingAndGlyphs">GND</text>
<rect x="197.4" y="250.2" width="15.9" height="24.8" fill="none" stroke="#6e2626" stroke-width="1.0"/>
<text x="203.57" y="262.6" font-size="5.2" fill="#2a8782" text-anchor="middle" textLength="7" lengthAdjust="spacingAndGlyphs" transform="rotate(-90 203.57 262.6)">K2</text>
<text x="210.27" y="262.7" font-size="5.2" fill="#2a8782" text-anchor="middle" textLength="38" lengthAdjust="spacingAndGlyphs" transform="rotate(-90 210.27 262.7)">MINI_LIMIT_SW</text>
<rect x="217.6" y="250.2" width="15.9" height="24.8" fill="none" stroke="#6e2626" stroke-width="1.0"/>
<text x="223.07" y="262.6" font-size="5.2" fill="#2a8782" text-anchor="middle" textLength="25" lengthAdjust="spacingAndGlyphs" transform="rotate(-90 223.07 262.6)">MINI_LIMIT</text>
<text x="230.67" y="262.6" font-size="5.2" fill="#2a8782" text-anchor="middle" textLength="7" lengthAdjust="spacingAndGlyphs" transform="rotate(-90 230.67 262.6)">X1</text>
<polygon points="233.5,274.9 263.2,274.9 265.8,279 263.2,283.1 233.5,283.1" fill="#fff" stroke="#6e2626" stroke-width="1.05"/>
<text x="248.35" y="281.64" font-size="8.0" fill="#48201f" text-anchor="middle" textLength="27.7" lengthAdjust="spacingAndGlyphs">Coolant</text>
<line x1="265.8" y1="278.8" x2="279.5" y2="278.8" stroke="#4a9a4a" stroke-width="1.0"/>
<line x1="265.8" y1="287" x2="279.5" y2="287" stroke="#6e2626" stroke-width="1.0"/>
<line x1="265.8" y1="295.2" x2="279.5" y2="295.2" stroke="#4a9a4a" stroke-width="1.0"/>
<polygon points="252.6,283.4 263.2,283.4 265.8,287.4 263.2,291.4 252.6,291.4" fill="#fff" stroke="#6e2626" stroke-width="1.05"/>
<text x="257.9" y="290.04" font-size="8.0" fill="#48201f" text-anchor="middle" textLength="8.6" lengthAdjust="spacingAndGlyphs">A4</text>
<polygon points="252.6,291.6 263.2,291.6 265.8,295.6 263.2,299.6 252.6,299.6" fill="#fff" stroke="#6e2626" stroke-width="1.05"/>
<text x="257.9" y="298.24" font-size="8.0" fill="#48201f" text-anchor="middle" textLength="8.6" lengthAdjust="spacingAndGlyphs">A5</text>
<polygon points="355.5,326.2 363.6,326.2 363.6,342.3 359.55,345 355.5,342.3" fill="#fff" stroke="#6e2626" stroke-width="0.9"/>
<text x="362.15" y="334.25" font-size="7.4" fill="#48201f" text-anchor="middle" textLength="13.6" lengthAdjust="spacingAndGlyphs" transform="rotate(-90 362.15 334.25)">3V3</text>
<polygon points="363.6,331.4 372,331.4 372,342.3 367.8,345 363.6,342.3" fill="#fff" stroke="#6e2626" stroke-width="0.9"/>
<text x="370.4" y="336.85" font-size="7.4" fill="#48201f" text-anchor="middle" textLength="8.4" lengthAdjust="spacingAndGlyphs" transform="rotate(-90 370.4 336.85)">5V</text>
<polygon points="372,330.2 381,330.2 381,342.3 376.5,345 372,342.3" fill="#fff" stroke="#6e2626" stroke-width="0.9"/>
<text x="379.1" y="336.25" font-size="7.4" fill="#48201f" text-anchor="middle" textLength="9.6" lengthAdjust="spacingAndGlyphs" transform="rotate(-90 379.1 336.25)">D1</text>
<polygon points="381,330.2 389.6,330.2 389.6,342.3 385.3,345 381,342.3" fill="#fff" stroke="#6e2626" stroke-width="0.9"/>
<text x="387.9" y="336.25" font-size="7.4" fill="#48201f" text-anchor="middle" textLength="9.6" lengthAdjust="spacingAndGlyphs" transform="rotate(-90 387.9 336.25)">D0</text>
<line x1="360.1" y1="345" x2="360.1" y2="358.7" stroke="#6e2626" stroke-width="1.0"/>
<text x="354.1" y="355" font-size="7.0" fill="#6e2626" text-anchor="middle" transform="rotate(90 354.1 355)">1</text>
<circle cx="360.1" cy="361.1" r="2.4" fill="#fff" stroke="#6e2626" stroke-width="0.9"/>
<line x1="368.3" y1="345" x2="368.3" y2="358.7" stroke="#6e2626" stroke-width="1.0"/>
<text x="362.3" y="355" font-size="7.0" fill="#6e2626" text-anchor="middle" transform="rotate(90 362.3 355)">2</text>
<circle cx="368.3" cy="361.1" r="2.4" fill="#fff" stroke="#6e2626" stroke-width="0.9"/>
<line x1="376.6" y1="345" x2="376.6" y2="358.7" stroke="#6e2626" stroke-width="1.0"/>
<text x="370.6" y="355" font-size="7.0" fill="#6e2626" text-anchor="middle" transform="rotate(90 370.6 355)">3</text>
<circle cx="376.6" cy="361.1" r="2.4" fill="#fff" stroke="#6e2626" stroke-width="0.9"/>
<line x1="384.7" y1="345" x2="384.7" y2="358.7" stroke="#6e2626" stroke-width="1.0"/>
<text x="378.7" y="355" font-size="7.0" fill="#6e2626" text-anchor="middle" transform="rotate(90 378.7 355)">4</text>
<circle cx="384.7" cy="361.1" r="2.4" fill="#fff" stroke="#6e2626" stroke-width="0.9"/>
<rect x="356.8" y="365.2" width="32.6" height="16.1" fill="none" stroke="#6e2626" stroke-width="1.0"/>
<text x="373" y="372" font-size="6.8" fill="#2a8782" text-anchor="middle" textLength="22" lengthAdjust="spacingAndGlyphs">RX/TX1</text>
<text x="372.3" y="379.4" font-size="6.8" fill="#2a8782" text-anchor="middle" textLength="43" lengthAdjust="spacingAndGlyphs">3V3/5V/RX/TX</text>
<polygon points="183.4,352 199.2,352 201.8,356.1 199.2,360.2 183.4,360.2" fill="#fff" stroke="#6e2626" stroke-width="1.05"/>
<text x="191.3" y="358.74" font-size="8.0" fill="#48201f" text-anchor="middle" textLength="13.8" lengthAdjust="spacingAndGlyphs">RST</text>
<line x1="201.8" y1="356.1" x2="216" y2="356.1" stroke="#6e2626" stroke-width="1.0"/>
<text x="210" y="354.8" font-size="8.0" fill="#4a1f1f" text-anchor="middle">1</text>
<circle cx="218.4" cy="356.1" r="2.4" fill="#fff" stroke="#6e2626" stroke-width="0.9"/>
<polygon points="181.2,360.2 199.2,360.2 201.8,364.3 199.2,368.4 181.2,368.4" fill="#fff" stroke="#6e2626" stroke-width="1.05"/>
<text x="190.2" y="366.94" font-size="8.0" fill="#48201f" text-anchor="middle" textLength="16" lengthAdjust="spacingAndGlyphs">GND</text>
<line x1="201.8" y1="364.3" x2="216" y2="364.3" stroke="#6e2626" stroke-width="1.0"/>
<text x="210" y="363" font-size="8.0" fill="#4a1f1f" text-anchor="middle">2</text>
<circle cx="218.4" cy="364.3" r="2.4" fill="#fff" stroke="#6e2626" stroke-width="0.9"/>
<polygon points="187.4,368.8 199.2,368.8 201.8,372.9 199.2,377 187.4,377" fill="#fff" stroke="#6e2626" stroke-width="1.05"/>
<text x="193.3" y="375.54" font-size="8.0" fill="#48201f" text-anchor="middle" textLength="9.8" lengthAdjust="spacingAndGlyphs">A4</text>
<line x1="201.8" y1="372.9" x2="216" y2="372.9" stroke="#6e2626" stroke-width="1.0"/>
<text x="210" y="371.6" font-size="8.0" fill="#4a1f1f" text-anchor="middle">3</text>
<circle cx="218.4" cy="372.9" r="2.4" fill="#fff" stroke="#6e2626" stroke-width="0.9"/>
<polygon points="187.4,377.4 199.2,377.4 201.8,381.5 199.2,385.6 187.4,385.6" fill="#fff" stroke="#6e2626" stroke-width="1.05"/>
<text x="193.3" y="384.14" font-size="8.0" fill="#48201f" text-anchor="middle" textLength="9.8" lengthAdjust="spacingAndGlyphs">A5</text>
<line x1="201.8" y1="381.5" x2="216" y2="381.5" stroke="#6e2626" stroke-width="1.0"/>
<text x="210" y="380.2" font-size="8.0" fill="#4a1f1f" text-anchor="middle">4</text>
<circle cx="218.4" cy="381.5" r="2.4" fill="#fff" stroke="#6e2626" stroke-width="0.9"/>
<rect x="221.5" y="352.4" width="17.4" height="33.2" fill="none" stroke="#6e2626" stroke-width="1.0"/>
<text x="226.94" y="369" font-size="5.4" fill="#2a8782" text-anchor="middle" textLength="7" lengthAdjust="spacingAndGlyphs" transform="rotate(-90 226.94 369)">K5</text>
<text x="234.32" y="368.5" font-size="5.6" fill="#2a8782" text-anchor="middle" textLength="57" lengthAdjust="spacingAndGlyphs" transform="rotate(-90 234.32 368.5)">RST/GND/SDA/SCL1</text>
<circle cx="41.3" cy="393.9" r="0.8" fill="none" stroke="#444" stroke-width="0.6"/>
<line x1="42.1" y1="393.9" x2="51.3" y2="393.9" stroke="#8a5050" stroke-width="0.7"/>
<circle cx="53.4" cy="393.9" r="2.1" fill="#fff" stroke="#6e2626" stroke-width="0.9"/>
<text x="60.8" y="395.7" font-size="5.4" fill="#2a8782" text-anchor="start" textLength="14.2" lengthAdjust="spacingAndGlyphs" font-weight="bold">Hole1</text>
<circle cx="41.3" cy="405.6" r="0.8" fill="none" stroke="#444" stroke-width="0.6"/>
<line x1="42.1" y1="405.6" x2="51.3" y2="405.6" stroke="#8a5050" stroke-width="0.7"/>
<circle cx="53.4" cy="405.6" r="2.1" fill="#fff" stroke="#6e2626" stroke-width="0.9"/>
<text x="60.8" y="407.4" font-size="5.4" fill="#2a8782" text-anchor="start" textLength="14.2" lengthAdjust="spacingAndGlyphs" font-weight="bold">Hole2</text>
<polygon points="234.5,442.2 260.5,442.2 263.1,446.7 260.5,451.2 234.5,451.2" fill="#fff" stroke="#6e2626" stroke-width="1.05"/>
<text x="247.5" y="449.34" font-size="8.0" fill="#48201f" text-anchor="middle" textLength="24" lengthAdjust="spacingAndGlyphs">EXT-V</text>
<polygon points="234.5,459 252,459 254.6,463.5 252,468 234.5,468" fill="#fff" stroke="#6e2626" stroke-width="1.05"/>
<text x="243.25" y="466.14" font-size="8.0" fill="#48201f" text-anchor="middle" textLength="15.5" lengthAdjust="spacingAndGlyphs">GND</text>
<line x1="263" y1="446.5" x2="277.4" y2="446.5" stroke="#6e2626" stroke-width="1.0"/>
<line x1="254.6" y1="463" x2="277.4" y2="463" stroke="#6e2626" stroke-width="1.0"/>
<text x="272" y="445" font-size="8.0" fill="#4a1f1f" text-anchor="middle">1</text>
<text x="272" y="461.5" font-size="8.0" fill="#4a1f1f" text-anchor="middle">2</text>
<circle cx="279.8" cy="446.5" r="2.4" fill="#fff" stroke="#6e2626" stroke-width="0.9"/>
<circle cx="279.8" cy="463" r="2.4" fill="#fff" stroke="#6e2626" stroke-width="0.9"/>
<rect x="282.2" y="443" width="17.3" height="24.5" fill="none" stroke="#6e2626" stroke-width="1.0"/>
<text x="288.52" y="455" font-size="5.6" fill="#2a8782" text-anchor="middle" textLength="18" lengthAdjust="spacingAndGlyphs" transform="rotate(-90 288.52 455)">Ext-Pwr</text>
<text x="296.52" y="455" font-size="5.6" fill="#2a8782" text-anchor="middle" textLength="17" lengthAdjust="spacingAndGlyphs" transform="rotate(-90 296.52 455)">12-36V</text>
<polygon points="412.5,442.05 445,442.05 447.6,446.2 445,450.35 412.5,450.35" fill="#fff" stroke="#6e2626" stroke-width="1.05"/>
<text x="428.75" y="448.84" font-size="8.0" fill="#48201f" text-anchor="middle" textLength="30.5" lengthAdjust="spacingAndGlyphs">X-STEP</text>
<line x1="447.6" y1="446.2" x2="461.4" y2="446.2" stroke="#6e2626" stroke-width="1.0"/>
<text x="456.5" y="444.9" font-size="8.0" fill="#4a1f1f" text-anchor="middle">1</text>
<circle cx="463.8" cy="446.2" r="2.4" fill="#fff" stroke="#6e2626" stroke-width="0.9"/>
<polygon points="412.5,450.25 445,450.25 447.6,454.4 445,458.55 412.5,458.55" fill="#fff" stroke="#6e2626" stroke-width="1.05"/>
<text x="428.75" y="457.04" font-size="8.0" fill="#48201f" text-anchor="middle" textLength="30.5" lengthAdjust="spacingAndGlyphs">Y-STEP</text>
<line x1="447.6" y1="454.4" x2="461.4" y2="454.4" stroke="#6e2626" stroke-width="1.0"/>
<text x="456.5" y="453.1" font-size="8.0" fill="#4a1f1f" text-anchor="middle">2</text>
<circle cx="463.8" cy="454.4" r="2.4" fill="#fff" stroke="#6e2626" stroke-width="0.9"/>
<polygon points="412.5,458.45 445,458.45 447.6,462.6 445,466.75 412.5,466.75" fill="#fff" stroke="#6e2626" stroke-width="1.05"/>
<text x="428.75" y="465.24" font-size="8.0" fill="#48201f" text-anchor="middle" textLength="30.5" lengthAdjust="spacingAndGlyphs">Z-STEP</text>
<line x1="447.6" y1="462.6" x2="461.4" y2="462.6" stroke="#6e2626" stroke-width="1.0"/>
<text x="456.5" y="461.3" font-size="8.0" fill="#4a1f1f" text-anchor="middle">3</text>
<circle cx="463.8" cy="462.6" r="2.4" fill="#fff" stroke="#6e2626" stroke-width="0.9"/>
<polygon points="401.5,466.65 445,466.65 447.6,470.8 445,474.95 401.5,474.95" fill="#fff" stroke="#6e2626" stroke-width="1.05"/>
<text x="423.25" y="473.44" font-size="8.0" fill="#48201f" text-anchor="middle" textLength="41.5" lengthAdjust="spacingAndGlyphs">SpinEnable</text>
<line x1="447.6" y1="470.8" x2="461.4" y2="470.8" stroke="#6e2626" stroke-width="1.0"/>
<text x="456.5" y="469.5" font-size="8.0" fill="#4a1f1f" text-anchor="middle">4</text>
<circle cx="463.8" cy="470.8" r="2.4" fill="#fff" stroke="#6e2626" stroke-width="0.9"/>
<rect x="467" y="442.7" width="16.4" height="31.3" fill="none" stroke="#6e2626" stroke-width="1.0"/>
<text x="472.37" y="457.85" font-size="5.2" fill="#2a8782" text-anchor="middle" textLength="9.5" lengthAdjust="spacingAndGlyphs" transform="rotate(-90 472.37 457.85)">P7</text>
<text x="480.39" y="459.15" font-size="5.8" fill="#2a8782" text-anchor="middle" textLength="23" lengthAdjust="spacingAndGlyphs" transform="rotate(-90 480.39 459.15)">CONN_4</text>
<polygon points="418.7,479.65 445,479.65 447.6,483.8 445,487.95 418.7,487.95" fill="#fff" stroke="#6e2626" stroke-width="1.05"/>
<text x="431.85" y="486.44" font-size="8.0" fill="#48201f" text-anchor="middle" textLength="24.3" lengthAdjust="spacingAndGlyphs">X-DIR</text>
<line x1="447.6" y1="483.8" x2="461.4" y2="483.8" stroke="#6e2626" stroke-width="1.0"/>
<text x="456.5" y="482.5" font-size="8.0" fill="#4a1f1f" text-anchor="middle">1</text>
<circle cx="463.8" cy="483.8" r="2.4" fill="#fff" stroke="#6e2626" stroke-width="0.9"/>
<polygon points="418.7,487.65 445,487.65 447.6,491.8 445,495.95 418.7,495.95" fill="#fff" stroke="#6e2626" stroke-width="1.05"/>
<text x="431.85" y="494.44" font-size="8.0" fill="#48201f" text-anchor="middle" textLength="24.3" lengthAdjust="spacingAndGlyphs">Y-DIR</text>
<line x1="447.6" y1="491.8" x2="461.4" y2="491.8" stroke="#6e2626" stroke-width="1.0"/>
<text x="456.5" y="490.5" font-size="8.0" fill="#4a1f1f" text-anchor="middle">2</text>
<circle cx="463.8" cy="491.8" r="2.4" fill="#fff" stroke="#6e2626" stroke-width="0.9"/>
<polygon points="418.7,495.55 445,495.55 447.6,499.7 445,503.85 418.7,503.85" fill="#fff" stroke="#6e2626" stroke-width="1.05"/>
<text x="431.85" y="502.34" font-size="8.0" fill="#48201f" text-anchor="middle" textLength="24.3" lengthAdjust="spacingAndGlyphs">Z-DIR</text>
<line x1="447.6" y1="499.7" x2="461.4" y2="499.7" stroke="#6e2626" stroke-width="1.0"/>
<text x="456.5" y="498.4" font-size="8.0" fill="#4a1f1f" text-anchor="middle">3</text>
<circle cx="463.8" cy="499.7" r="2.4" fill="#fff" stroke="#6e2626" stroke-width="0.9"/>
<polygon points="415,503.45 445,503.45 447.6,507.6 445,511.75 415,511.75" fill="#fff" stroke="#6e2626" stroke-width="1.05"/>
<text x="430" y="510.24" font-size="8.0" fill="#48201f" text-anchor="middle" textLength="28" lengthAdjust="spacingAndGlyphs">SpinDir</text>
<line x1="447.6" y1="507.6" x2="461.4" y2="507.6" stroke="#6e2626" stroke-width="1.0"/>
<text x="456.5" y="506.3" font-size="8.0" fill="#4a1f1f" text-anchor="middle">4</text>
<circle cx="463.8" cy="507.6" r="2.4" fill="#fff" stroke="#6e2626" stroke-width="0.9"/>
<rect x="467" y="479.3" width="16.4" height="33" fill="none" stroke="#6e2626" stroke-width="1.0"/>
<text x="472.37" y="495.3" font-size="5.2" fill="#2a8782" text-anchor="middle" textLength="9.5" lengthAdjust="spacingAndGlyphs" transform="rotate(-90 472.37 495.3)">P8</text>
<text x="480.39" y="496.6" font-size="5.8" fill="#2a8782" text-anchor="middle" textLength="23" lengthAdjust="spacingAndGlyphs" transform="rotate(-90 480.39 496.6)">CONN_4</text>
<rect x="491.5" y="442.7" width="15.8" height="31.3" fill="none" stroke="#6e2626" stroke-width="1.0"/>
<text x="496.79" y="459.15" font-size="5.8" fill="#2a8782" text-anchor="middle" textLength="23" lengthAdjust="spacingAndGlyphs" transform="rotate(-90 496.79 459.15)">CONN_4</text>
<text x="505.17" y="458.35" font-size="5.2" fill="#2a8782" text-anchor="middle" textLength="9.5" lengthAdjust="spacingAndGlyphs" transform="rotate(-90 505.17 458.35)">P9</text>
<circle cx="510.1" cy="446.2" r="2.4" fill="#fff" stroke="#6e2626" stroke-width="0.9"/>
<text x="517.5" y="444.9" font-size="8.0" fill="#4a1f1f" text-anchor="middle">4</text>
<line x1="512.5" y1="446.2" x2="527.7" y2="446.2" stroke="#6e2626" stroke-width="1.0"/>
<circle cx="510.1" cy="454.4" r="2.4" fill="#fff" stroke="#6e2626" stroke-width="0.9"/>
<text x="517.5" y="453.1" font-size="8.0" fill="#4a1f1f" text-anchor="middle">3</text>
<line x1="512.5" y1="454.4" x2="527.7" y2="454.4" stroke="#6e2626" stroke-width="1.0"/>
<circle cx="510.1" cy="462.6" r="2.4" fill="#fff" stroke="#6e2626" stroke-width="0.9"/>
<text x="517.5" y="461.3" font-size="8.0" fill="#4a1f1f" text-anchor="middle">2</text>
<line x1="512.5" y1="462.6" x2="527.7" y2="462.6" stroke="#6e2626" stroke-width="1.0"/>
<circle cx="510.1" cy="470.8" r="2.4" fill="#fff" stroke="#6e2626" stroke-width="0.9"/>
<text x="517.5" y="469.5" font-size="8.0" fill="#4a1f1f" text-anchor="middle">1</text>
<line x1="512.5" y1="470.8" x2="527.7" y2="470.8" stroke="#6e2626" stroke-width="1.0"/>
<line x1="527.7" y1="446.2" x2="527.7" y2="470.8" stroke="#4a9a4a" stroke-width="1.0"/>
<circle cx="527.7" cy="446.2" r="1.0" fill="#4a7a3a"/>
<circle cx="527.7" cy="454.4" r="1.0" fill="#4a7a3a"/>
<circle cx="527.7" cy="462.6" r="1.0" fill="#4a7a3a"/>
<polygon points="529.7,446.2 532.3,442 560,442 560,450.4 532.3,450.4" fill="#fff" stroke="#6e2626" stroke-width="1.05"/>
<text x="546.15" y="448.84" font-size="8.0" fill="#48201f" text-anchor="middle" textLength="25.7" lengthAdjust="spacingAndGlyphs">A-STEP</text>
<rect x="491.5" y="479.3" width="15.8" height="33" fill="none" stroke="#6e2626" stroke-width="1.0"/>
<text x="496.79" y="496.6" font-size="5.8" fill="#2a8782" text-anchor="middle" textLength="23" lengthAdjust="spacingAndGlyphs" transform="rotate(-90 496.79 496.6)">CONN_4</text>
<text x="505.17" y="495.8" font-size="5.2" fill="#2a8782" text-anchor="middle" textLength="9.5" lengthAdjust="spacingAndGlyphs" transform="rotate(-90 505.17 495.8)">P10</text>
<circle cx="510.1" cy="483.8" r="2.4" fill="#fff" stroke="#6e2626" stroke-width="0.9"/>
<text x="517.5" y="482.5" font-size="8.0" fill="#4a1f1f" text-anchor="middle">4</text>
<line x1="512.5" y1="483.8" x2="527.7" y2="483.8" stroke="#6e2626" stroke-width="1.0"/>
<circle cx="510.1" cy="491.8" r="2.4" fill="#fff" stroke="#6e2626" stroke-width="0.9"/>
<text x="517.5" y="490.5" font-size="8.0" fill="#4a1f1f" text-anchor="middle">3</text>
<line x1="512.5" y1="491.8" x2="527.7" y2="491.8" stroke="#6e2626" stroke-width="1.0"/>
<circle cx="510.1" cy="499.7" r="2.4" fill="#fff" stroke="#6e2626" stroke-width="0.9"/>
<text x="517.5" y="498.4" font-size="8.0" fill="#4a1f1f" text-anchor="middle">2</text>
<line x1="512.5" y1="499.7" x2="527.7" y2="499.7" stroke="#6e2626" stroke-width="1.0"/>
<circle cx="510.1" cy="507.6" r="2.4" fill="#fff" stroke="#6e2626" stroke-width="0.9"/>
<text x="517.5" y="506.3" font-size="8.0" fill="#4a1f1f" text-anchor="middle">1</text>
<line x1="512.5" y1="507.6" x2="527.7" y2="507.6" stroke="#6e2626" stroke-width="1.0"/>
<line x1="527.7" y1="483.8" x2="527.7" y2="507.6" stroke="#4a9a4a" stroke-width="1.0"/>
<circle cx="527.7" cy="483.8" r="1.0" fill="#4a7a3a"/>
<circle cx="527.7" cy="491.8" r="1.0" fill="#4a7a3a"/>
<circle cx="527.7" cy="499.7" r="1.0" fill="#4a7a3a"/>
<polygon points="529.7,483.8 532.3,479.6 555.4,479.6 555.4,488 532.3,488" fill="#fff" stroke="#6e2626" stroke-width="1.05"/>
<text x="543.85" y="486.44" font-size="8.0" fill="#48201f" text-anchor="middle" textLength="21.1" lengthAdjust="spacingAndGlyphs">A-DIR</text>
<line x1="479.2" y1="234.2" x2="495.2" y2="234.2" stroke="#222" stroke-width="1.1"/>
<line x1="487.2" y1="226.2" x2="487.2" y2="242.2" stroke="#222" stroke-width="1.1"/>
<rect x="572.5" y="58.4" width="48.7" height="64.73" fill="none" stroke="#6e2626" stroke-width="1.0"/>
<line x1="547.5" y1="62" x2="567.1" y2="62" stroke="#6e2626" stroke-width="1.0"/>
<circle cx="569.5" cy="62" r="2.4" fill="#fff" stroke="#6e2626" stroke-width="0.9"/>
<text x="561" y="60.9" font-size="8.6" fill="#4a1f1f" text-anchor="middle" textLength="3.8" lengthAdjust="spacingAndGlyphs">9</text>
<text x="576.3" y="64.8" font-size="8.6" fill="#2a8782" text-anchor="start" textLength="8.9" lengthAdjust="spacingAndGlyphs">EN</text>
<text x="618" y="64.8" font-size="8.6" fill="#2a8782" text-anchor="end" textLength="17.4" lengthAdjust="spacingAndGlyphs">VMOT</text>
<line x1="621.2" y1="62" x2="645.8" y2="62" stroke="#6e2626" stroke-width="1.0"/>
<text x="633.7" y="60.9" font-size="8.6" fill="#4a1f1f" text-anchor="middle" textLength="4" lengthAdjust="spacingAndGlyphs">8</text>
<line x1="547.5" y1="70.19" x2="572.5" y2="70.19" stroke="#6e2626" stroke-width="1.0"/>
<text x="561" y="69.09" font-size="8.6" fill="#4a1f1f" text-anchor="middle" textLength="7.6" lengthAdjust="spacingAndGlyphs">10</text>
<text x="576.3" y="72.99" font-size="8.6" fill="#2a8782" text-anchor="start" textLength="13.65" lengthAdjust="spacingAndGlyphs">MS1</text>
<text x="618" y="72.99" font-size="8.6" fill="#2a8782" text-anchor="end" textLength="12.9" lengthAdjust="spacingAndGlyphs">GND</text>
<line x1="621.2" y1="70.19" x2="645.8" y2="70.19" stroke="#6e2626" stroke-width="1.0"/>
<text x="633.7" y="69.09" font-size="8.6" fill="#4a1f1f" text-anchor="middle" textLength="4" lengthAdjust="spacingAndGlyphs">7</text>
<line x1="547.5" y1="78.38" x2="572.5" y2="78.38" stroke="#6e2626" stroke-width="1.0"/>
<text x="561" y="77.28" font-size="8.6" fill="#4a1f1f" text-anchor="middle" textLength="7.6" lengthAdjust="spacingAndGlyphs">11</text>
<text x="576.3" y="81.18" font-size="8.6" fill="#2a8782" text-anchor="start" textLength="13.65" lengthAdjust="spacingAndGlyphs">MS2</text>
<text x="618" y="81.18" font-size="8.6" fill="#2a8782" text-anchor="end" textLength="8.4" lengthAdjust="spacingAndGlyphs">2B</text>
<line x1="621.2" y1="78.38" x2="645.8" y2="78.38" stroke="#6e2626" stroke-width="1.0"/>
<text x="633.7" y="77.28" font-size="8.6" fill="#4a1f1f" text-anchor="middle" textLength="4" lengthAdjust="spacingAndGlyphs">6</text>
<line x1="547.5" y1="86.57" x2="572.5" y2="86.57" stroke="#6e2626" stroke-width="1.0"/>
<text x="561" y="85.47" font-size="8.6" fill="#4a1f1f" text-anchor="middle" textLength="7.6" lengthAdjust="spacingAndGlyphs">12</text>
<text x="576.3" y="89.37" font-size="8.6" fill="#2a8782" text-anchor="start" textLength="13.65" lengthAdjust="spacingAndGlyphs">MS3</text>
<text x="618" y="89.37" font-size="8.6" fill="#2a8782" text-anchor="end" textLength="8.4" lengthAdjust="spacingAndGlyphs">2A</text>
<line x1="621.2" y1="86.57" x2="645.8" y2="86.57" stroke="#6e2626" stroke-width="1.0"/>
<text x="633.7" y="85.47" font-size="8.6" fill="#4a1f1f" text-anchor="middle" textLength="4" lengthAdjust="spacingAndGlyphs">5</text>
<line x1="547.5" y1="94.76" x2="567.1" y2="94.76" stroke="#6e2626" stroke-width="1.0"/>
<circle cx="569.5" cy="94.76" r="2.4" fill="#fff" stroke="#6e2626" stroke-width="0.9"/>
<text x="561" y="93.66" font-size="8.6" fill="#4a1f1f" text-anchor="middle" textLength="7.6" lengthAdjust="spacingAndGlyphs">13</text>
<text x="576.3" y="97.56" font-size="8.6" fill="#2a8782" text-anchor="start" textLength="13.65" lengthAdjust="spacingAndGlyphs">RST</text>
<text x="618" y="97.56" font-size="8.6" fill="#2a8782" text-anchor="end" textLength="8.4" lengthAdjust="spacingAndGlyphs">1A</text>
<line x1="621.2" y1="94.76" x2="645.8" y2="94.76" stroke="#6e2626" stroke-width="1.0"/>
<text x="633.7" y="93.66" font-size="8.6" fill="#4a1f1f" text-anchor="middle" textLength="4" lengthAdjust="spacingAndGlyphs">4</text>
<line x1="547.5" y1="102.95" x2="567.1" y2="102.95" stroke="#6e2626" stroke-width="1.0"/>
<circle cx="569.5" cy="102.95" r="2.4" fill="#fff" stroke="#6e2626" stroke-width="0.9"/>
<text x="561" y="101.85" font-size="8.6" fill="#4a1f1f" text-anchor="middle" textLength="7.6" lengthAdjust="spacingAndGlyphs">14</text>
<text x="576.3" y="105.75" font-size="8.6" fill="#2a8782" text-anchor="start" textLength="13.65" lengthAdjust="spacingAndGlyphs">SLP</text>
<text x="618" y="105.75" font-size="8.6" fill="#2a8782" text-anchor="end" textLength="8.4" lengthAdjust="spacingAndGlyphs">1B</text>
<line x1="621.2" y1="102.95" x2="645.8" y2="102.95" stroke="#6e2626" stroke-width="1.0"/>
<text x="633.7" y="101.85" font-size="8.6" fill="#4a1f1f" text-anchor="middle" textLength="4" lengthAdjust="spacingAndGlyphs">3</text>
<line x1="547.5" y1="111.14" x2="572.5" y2="111.14" stroke="#6e2626" stroke-width="1.0"/>
<text x="561" y="110.04" font-size="8.6" fill="#4a1f1f" text-anchor="middle" textLength="7.6" lengthAdjust="spacingAndGlyphs">15</text>
<text x="576.3" y="113.94" font-size="8.6" fill="#2a8782" text-anchor="start" textLength="18.4" lengthAdjust="spacingAndGlyphs">STEP</text>
<text x="618" y="113.94" font-size="8.6" fill="#2a8782" text-anchor="end" textLength="12.9" lengthAdjust="spacingAndGlyphs">VDD</text>
<line x1="621.2" y1="111.14" x2="645.8" y2="111.14" stroke="#6e2626" stroke-width="1.0"/>
<text x="633.7" y="110.04" font-size="8.6" fill="#4a1f1f" text-anchor="middle" textLength="4" lengthAdjust="spacingAndGlyphs">2</text>
<line x1="547.5" y1="119.33" x2="572.5" y2="119.33" stroke="#6e2626" stroke-width="1.0"/>
<text x="561" y="118.23" font-size="8.6" fill="#4a1f1f" text-anchor="middle" textLength="7.6" lengthAdjust="spacingAndGlyphs">16</text>
<text x="576.3" y="122.13" font-size="8.6" fill="#2a8782" text-anchor="start" textLength="13.65" lengthAdjust="spacingAndGlyphs">DIR</text>
<text x="618" y="122.13" font-size="8.6" fill="#2a8782" text-anchor="end" textLength="12.9" lengthAdjust="spacingAndGlyphs">GND</text>
<line x1="621.2" y1="119.33" x2="645.8" y2="119.33" stroke="#6e2626" stroke-width="1.0"/>
<text x="633.7" y="118.23" font-size="8.6" fill="#4a1f1f" text-anchor="middle" textLength="4" lengthAdjust="spacingAndGlyphs">1</text>
<text x="599.5" y="90.66" font-size="6.0" fill="#2a8782" text-anchor="middle" textLength="26" lengthAdjust="spacingAndGlyphs" font-weight="bold" transform="rotate(-90 599.5 90.66)">MotorDrv</text>
<text x="597" y="131.93" font-size="8.6" fill="#2a8782" text-anchor="middle" textLength="32.2" lengthAdjust="spacingAndGlyphs">Z-Axis1</text>
<rect x="572.5" y="169.1" width="48.7" height="64.73" fill="none" stroke="#6e2626" stroke-width="1.0"/>
<line x1="547.5" y1="172.7" x2="567.1" y2="172.7" stroke="#6e2626" stroke-width="1.0"/>
<circle cx="569.5" cy="172.7" r="2.4" fill="#fff" stroke="#6e2626" stroke-width="0.9"/>
<text x="561" y="171.6" font-size="8.6" fill="#4a1f1f" text-anchor="middle" textLength="3.8" lengthAdjust="spacingAndGlyphs">9</text>
<text x="576.3" y="175.5" font-size="8.6" fill="#2a8782" text-anchor="start" textLength="8.9" lengthAdjust="spacingAndGlyphs">EN</text>
<text x="618" y="175.5" font-size="8.6" fill="#2a8782" text-anchor="end" textLength="17.4" lengthAdjust="spacingAndGlyphs">VMOT</text>
<line x1="621.2" y1="172.7" x2="645.8" y2="172.7" stroke="#6e2626" stroke-width="1.0"/>
<text x="633.7" y="171.6" font-size="8.6" fill="#4a1f1f" text-anchor="middle" textLength="4" lengthAdjust="spacingAndGlyphs">8</text>
<line x1="547.5" y1="180.89" x2="572.5" y2="180.89" stroke="#6e2626" stroke-width="1.0"/>
<text x="561" y="179.79" font-size="8.6" fill="#4a1f1f" text-anchor="middle" textLength="7.6" lengthAdjust="spacingAndGlyphs">10</text>
<text x="576.3" y="183.69" font-size="8.6" fill="#2a8782" text-anchor="start" textLength="13.65" lengthAdjust="spacingAndGlyphs">MS1</text>
<text x="618" y="183.69" font-size="8.6" fill="#2a8782" text-anchor="end" textLength="12.9" lengthAdjust="spacingAndGlyphs">GND</text>
<line x1="621.2" y1="180.89" x2="645.8" y2="180.89" stroke="#6e2626" stroke-width="1.0"/>
<text x="633.7" y="179.79" font-size="8.6" fill="#4a1f1f" text-anchor="middle" textLength="4" lengthAdjust="spacingAndGlyphs">7</text>
<line x1="547.5" y1="189.08" x2="572.5" y2="189.08" stroke="#6e2626" stroke-width="1.0"/>
<text x="561" y="187.98" font-size="8.6" fill="#4a1f1f" text-anchor="middle" textLength="7.6" lengthAdjust="spacingAndGlyphs">11</text>
<text x="576.3" y="191.88" font-size="8.6" fill="#2a8782" text-anchor="start" textLength="13.65" lengthAdjust="spacingAndGlyphs">MS2</text>
<text x="618" y="191.88" font-size="8.6" fill="#2a8782" text-anchor="end" textLength="8.4" lengthAdjust="spacingAndGlyphs">2B</text>
<line x1="621.2" y1="189.08" x2="645.8" y2="189.08" stroke="#6e2626" stroke-width="1.0"/>
<text x="633.7" y="187.98" font-size="8.6" fill="#4a1f1f" text-anchor="middle" textLength="4" lengthAdjust="spacingAndGlyphs">6</text>
<line x1="547.5" y1="197.27" x2="572.5" y2="197.27" stroke="#6e2626" stroke-width="1.0"/>
<text x="561" y="196.17" font-size="8.6" fill="#4a1f1f" text-anchor="middle" textLength="7.6" lengthAdjust="spacingAndGlyphs">12</text>
<text x="576.3" y="200.07" font-size="8.6" fill="#2a8782" text-anchor="start" textLength="13.65" lengthAdjust="spacingAndGlyphs">MS3</text>
<text x="618" y="200.07" font-size="8.6" fill="#2a8782" text-anchor="end" textLength="8.4" lengthAdjust="spacingAndGlyphs">2A</text>
<line x1="621.2" y1="197.27" x2="645.8" y2="197.27" stroke="#6e2626" stroke-width="1.0"/>
<text x="633.7" y="196.17" font-size="8.6" fill="#4a1f1f" text-anchor="middle" textLength="4" lengthAdjust="spacingAndGlyphs">5</text>
<line x1="547.5" y1="205.46" x2="567.1" y2="205.46" stroke="#6e2626" stroke-width="1.0"/>
<circle cx="569.5" cy="205.46" r="2.4" fill="#fff" stroke="#6e2626" stroke-width="0.9"/>
<text x="561" y="204.36" font-size="8.6" fill="#4a1f1f" text-anchor="middle" textLength="7.6" lengthAdjust="spacingAndGlyphs">13</text>
<text x="576.3" y="208.26" font-size="8.6" fill="#2a8782" text-anchor="start" textLength="13.65" lengthAdjust="spacingAndGlyphs">RST</text>
<text x="618" y="208.26" font-size="8.6" fill="#2a8782" text-anchor="end" textLength="8.4" lengthAdjust="spacingAndGlyphs">1A</text>
<line x1="621.2" y1="205.46" x2="645.8" y2="205.46" stroke="#6e2626" stroke-width="1.0"/>
<text x="633.7" y="204.36" font-size="8.6" fill="#4a1f1f" text-anchor="middle" textLength="4" lengthAdjust="spacingAndGlyphs">4</text>
<line x1="547.5" y1="213.65" x2="567.1" y2="213.65" stroke="#6e2626" stroke-width="1.0"/>
<circle cx="569.5" cy="213.65" r="2.4" fill="#fff" stroke="#6e2626" stroke-width="0.9"/>
<text x="561" y="212.55" font-size="8.6" fill="#4a1f1f" text-anchor="middle" textLength="7.6" lengthAdjust="spacingAndGlyphs">14</text>
<text x="576.3" y="216.45" font-size="8.6" fill="#2a8782" text-anchor="start" textLength="13.65" lengthAdjust="spacingAndGlyphs">SLP</text>
<text x="618" y="216.45" font-size="8.6" fill="#2a8782" text-anchor="end" textLength="8.4" lengthAdjust="spacingAndGlyphs">1B</text>
<line x1="621.2" y1="213.65" x2="645.8" y2="213.65" stroke="#6e2626" stroke-width="1.0"/>
<text x="633.7" y="212.55" font-size="8.6" fill="#4a1f1f" text-anchor="middle" textLength="4" lengthAdjust="spacingAndGlyphs">3</text>
<line x1="547.5" y1="221.84" x2="572.5" y2="221.84" stroke="#6e2626" stroke-width="1.0"/>
<text x="561" y="220.74" font-size="8.6" fill="#4a1f1f" text-anchor="middle" textLength="7.6" lengthAdjust="spacingAndGlyphs">15</text>
<text x="576.3" y="224.64" font-size="8.6" fill="#2a8782" text-anchor="start" textLength="18.4" lengthAdjust="spacingAndGlyphs">STEP</text>
<text x="618" y="224.64" font-size="8.6" fill="#2a8782" text-anchor="end" textLength="12.9" lengthAdjust="spacingAndGlyphs">VDD</text>
<line x1="621.2" y1="221.84" x2="645.8" y2="221.84" stroke="#6e2626" stroke-width="1.0"/>
<text x="633.7" y="220.74" font-size="8.6" fill="#4a1f1f" text-anchor="middle" textLength="4" lengthAdjust="spacingAndGlyphs">2</text>
<line x1="547.5" y1="230.03" x2="572.5" y2="230.03" stroke="#6e2626" stroke-width="1.0"/>
<text x="561" y="228.93" font-size="8.6" fill="#4a1f1f" text-anchor="middle" textLength="7.6" lengthAdjust="spacingAndGlyphs">16</text>
<text x="576.3" y="232.83" font-size="8.6" fill="#2a8782" text-anchor="start" textLength="13.65" lengthAdjust="spacingAndGlyphs">DIR</text>
<text x="618" y="232.83" font-size="8.6" fill="#2a8782" text-anchor="end" textLength="12.9" lengthAdjust="spacingAndGlyphs">GND</text>
<line x1="621.2" y1="230.03" x2="645.8" y2="230.03" stroke="#6e2626" stroke-width="1.0"/>
<text x="633.7" y="228.93" font-size="8.6" fill="#4a1f1f" text-anchor="middle" textLength="4" lengthAdjust="spacingAndGlyphs">1</text>
<text x="599.5" y="201.36" font-size="6.0" fill="#2a8782" text-anchor="middle" textLength="26" lengthAdjust="spacingAndGlyphs" font-weight="bold" transform="rotate(-90 599.5 201.36)">MotorDrv</text>
<text x="597" y="242.63" font-size="8.6" fill="#2a8782" text-anchor="middle" textLength="32.2" lengthAdjust="spacingAndGlyphs">Y-Axis1</text>
<rect x="569" y="262.8" width="48.7" height="64.73" fill="none" stroke="#6e2626" stroke-width="1.0"/>
<line x1="544" y1="266.4" x2="563.6" y2="266.4" stroke="#6e2626" stroke-width="1.0"/>
<circle cx="566" cy="266.4" r="2.4" fill="#fff" stroke="#6e2626" stroke-width="0.9"/>
<text x="557.5" y="265.3" font-size="8.6" fill="#4a1f1f" text-anchor="middle" textLength="3.8" lengthAdjust="spacingAndGlyphs">9</text>
<text x="572.8" y="269.2" font-size="8.6" fill="#2a8782" text-anchor="start" textLength="8.9" lengthAdjust="spacingAndGlyphs">EN</text>
<text x="614.5" y="269.2" font-size="8.6" fill="#2a8782" text-anchor="end" textLength="17.4" lengthAdjust="spacingAndGlyphs">VMOT</text>
<line x1="617.7" y1="266.4" x2="642.3" y2="266.4" stroke="#6e2626" stroke-width="1.0"/>
<text x="630.2" y="265.3" font-size="8.6" fill="#4a1f1f" text-anchor="middle" textLength="4" lengthAdjust="spacingAndGlyphs">8</text>
<line x1="544" y1="274.59" x2="569" y2="274.59" stroke="#6e2626" stroke-width="1.0"/>
<text x="557.5" y="273.49" font-size="8.6" fill="#4a1f1f" text-anchor="middle" textLength="7.6" lengthAdjust="spacingAndGlyphs">10</text>
<text x="572.8" y="277.39" font-size="8.6" fill="#2a8782" text-anchor="start" textLength="13.65" lengthAdjust="spacingAndGlyphs">MS1</text>
<text x="614.5" y="277.39" font-size="8.6" fill="#2a8782" text-anchor="end" textLength="12.9" lengthAdjust="spacingAndGlyphs">GND</text>
<line x1="617.7" y1="274.59" x2="642.3" y2="274.59" stroke="#6e2626" stroke-width="1.0"/>
<text x="630.2" y="273.49" font-size="8.6" fill="#4a1f1f" text-anchor="middle" textLength="4" lengthAdjust="spacingAndGlyphs">7</text>
<line x1="544" y1="282.78" x2="569" y2="282.78" stroke="#6e2626" stroke-width="1.0"/>
<text x="557.5" y="281.68" font-size="8.6" fill="#4a1f1f" text-anchor="middle" textLength="7.6" lengthAdjust="spacingAndGlyphs">11</text>
<text x="572.8" y="285.58" font-size="8.6" fill="#2a8782" text-anchor="start" textLength="13.65" lengthAdjust="spacingAndGlyphs">MS2</text>
<text x="614.5" y="285.58" font-size="8.6" fill="#2a8782" text-anchor="end" textLength="8.4" lengthAdjust="spacingAndGlyphs">2B</text>
<line x1="617.7" y1="282.78" x2="642.3" y2="282.78" stroke="#6e2626" stroke-width="1.0"/>
<text x="630.2" y="281.68" font-size="8.6" fill="#4a1f1f" text-anchor="middle" textLength="4" lengthAdjust="spacingAndGlyphs">6</text>
<line x1="544" y1="290.97" x2="569" y2="290.97" stroke="#6e2626" stroke-width="1.0"/>
<text x="557.5" y="289.87" font-size="8.6" fill="#4a1f1f" text-anchor="middle" textLength="7.6" lengthAdjust="spacingAndGlyphs">12</text>
<text x="572.8" y="293.77" font-size="8.6" fill="#2a8782" text-anchor="start" textLength="13.65" lengthAdjust="spacingAndGlyphs">MS3</text>
<text x="614.5" y="293.77" font-size="8.6" fill="#2a8782" text-anchor="end" textLength="8.4" lengthAdjust="spacingAndGlyphs">2A</text>
<line x1="617.7" y1="290.97" x2="642.3" y2="290.97" stroke="#6e2626" stroke-width="1.0"/>
<text x="630.2" y="289.87" font-size="8.6" fill="#4a1f1f" text-anchor="middle" textLength="4" lengthAdjust="spacingAndGlyphs">5</text>
<line x1="544" y1="299.16" x2="563.6" y2="299.16" stroke="#6e2626" stroke-width="1.0"/>
<circle cx="566" cy="299.16" r="2.4" fill="#fff" stroke="#6e2626" stroke-width="0.9"/>
<text x="557.5" y="298.06" font-size="8.6" fill="#4a1f1f" text-anchor="middle" textLength="7.6" lengthAdjust="spacingAndGlyphs">13</text>
<text x="572.8" y="301.96" font-size="8.6" fill="#2a8782" text-anchor="start" textLength="13.65" lengthAdjust="spacingAndGlyphs">RST</text>
<text x="614.5" y="301.96" font-size="8.6" fill="#2a8782" text-anchor="end" textLength="8.4" lengthAdjust="spacingAndGlyphs">1A</text>
<line x1="617.7" y1="299.16" x2="642.3" y2="299.16" stroke="#6e2626" stroke-width="1.0"/>
<text x="630.2" y="298.06" font-size="8.6" fill="#4a1f1f" text-anchor="middle" textLength="4" lengthAdjust="spacingAndGlyphs">4</text>
<line x1="544" y1="307.35" x2="563.6" y2="307.35" stroke="#6e2626" stroke-width="1.0"/>
<circle cx="566" cy="307.35" r="2.4" fill="#fff" stroke="#6e2626" stroke-width="0.9"/>
<text x="557.5" y="306.25" font-size="8.6" fill="#4a1f1f" text-anchor="middle" textLength="7.6" lengthAdjust="spacingAndGlyphs">14</text>
<text x="572.8" y="310.15" font-size="8.6" fill="#2a8782" text-anchor="start" textLength="13.65" lengthAdjust="spacingAndGlyphs">SLP</text>
<text x="614.5" y="310.15" font-size="8.6" fill="#2a8782" text-anchor="end" textLength="8.4" lengthAdjust="spacingAndGlyphs">1B</text>
<line x1="617.7" y1="307.35" x2="642.3" y2="307.35" stroke="#6e2626" stroke-width="1.0"/>
<text x="630.2" y="306.25" font-size="8.6" fill="#4a1f1f" text-anchor="middle" textLength="4" lengthAdjust="spacingAndGlyphs">3</text>
<line x1="544" y1="315.54" x2="569" y2="315.54" stroke="#6e2626" stroke-width="1.0"/>
<text x="557.5" y="314.44" font-size="8.6" fill="#4a1f1f" text-anchor="middle" textLength="7.6" lengthAdjust="spacingAndGlyphs">15</text>
<text x="572.8" y="318.34" font-size="8.6" fill="#2a8782" text-anchor="start" textLength="18.4" lengthAdjust="spacingAndGlyphs">STEP</text>
<text x="614.5" y="318.34" font-size="8.6" fill="#2a8782" text-anchor="end" textLength="12.9" lengthAdjust="spacingAndGlyphs">VDD</text>
<line x1="617.7" y1="315.54" x2="642.3" y2="315.54" stroke="#6e2626" stroke-width="1.0"/>
<text x="630.2" y="314.44" font-size="8.6" fill="#4a1f1f" text-anchor="middle" textLength="4" lengthAdjust="spacingAndGlyphs">2</text>
<line x1="544" y1="323.73" x2="569" y2="323.73" stroke="#6e2626" stroke-width="1.0"/>
<text x="557.5" y="322.63" font-size="8.6" fill="#4a1f1f" text-anchor="middle" textLength="7.6" lengthAdjust="spacingAndGlyphs">16</text>
<text x="572.8" y="326.53" font-size="8.6" fill="#2a8782" text-anchor="start" textLength="13.65" lengthAdjust="spacingAndGlyphs">DIR</text>
<text x="614.5" y="326.53" font-size="8.6" fill="#2a8782" text-anchor="end" textLength="12.9" lengthAdjust="spacingAndGlyphs">GND</text>
<line x1="617.7" y1="323.73" x2="642.3" y2="323.73" stroke="#6e2626" stroke-width="1.0"/>
<text x="630.2" y="322.63" font-size="8.6" fill="#4a1f1f" text-anchor="middle" textLength="4" lengthAdjust="spacingAndGlyphs">1</text>
<text x="596" y="295.06" font-size="6.0" fill="#2a8782" text-anchor="middle" textLength="26" lengthAdjust="spacingAndGlyphs" font-weight="bold" transform="rotate(-90 596 295.06)">MotorDrv</text>
<text x="593.5" y="336.33" font-size="8.6" fill="#2a8782" text-anchor="middle" textLength="32.2" lengthAdjust="spacingAndGlyphs">X-Axis1</text>
<rect x="569" y="365.5" width="48.7" height="64.73" fill="none" stroke="#6e2626" stroke-width="1.0"/>
<line x1="544" y1="369.1" x2="563.6" y2="369.1" stroke="#6e2626" stroke-width="1.0"/>
<circle cx="566" cy="369.1" r="2.4" fill="#fff" stroke="#6e2626" stroke-width="0.9"/>
<text x="557.5" y="368" font-size="8.6" fill="#4a1f1f" text-anchor="middle" textLength="3.8" lengthAdjust="spacingAndGlyphs">9</text>
<text x="572.8" y="371.9" font-size="8.6" fill="#2a8782" text-anchor="start" textLength="8.9" lengthAdjust="spacingAndGlyphs">EN</text>
<text x="614.5" y="371.9" font-size="8.6" fill="#2a8782" text-anchor="end" textLength="17.4" lengthAdjust="spacingAndGlyphs">VMOT</text>
<line x1="617.7" y1="369.1" x2="642.3" y2="369.1" stroke="#6e2626" stroke-width="1.0"/>
<text x="630.2" y="368" font-size="8.6" fill="#4a1f1f" text-anchor="middle" textLength="4" lengthAdjust="spacingAndGlyphs">8</text>
<line x1="544" y1="377.29" x2="569" y2="377.29" stroke="#6e2626" stroke-width="1.0"/>
<text x="557.5" y="376.19" font-size="8.6" fill="#4a1f1f" text-anchor="middle" textLength="7.6" lengthAdjust="spacingAndGlyphs">10</text>
<text x="572.8" y="380.09" font-size="8.6" fill="#2a8782" text-anchor="start" textLength="13.65" lengthAdjust="spacingAndGlyphs">MS1</text>
<text x="614.5" y="380.09" font-size="8.6" fill="#2a8782" text-anchor="end" textLength="12.9" lengthAdjust="spacingAndGlyphs">GND</text>
<line x1="617.7" y1="377.29" x2="642.3" y2="377.29" stroke="#6e2626" stroke-width="1.0"/>
<text x="630.2" y="376.19" font-size="8.6" fill="#4a1f1f" text-anchor="middle" textLength="4" lengthAdjust="spacingAndGlyphs">7</text>
<line x1="544" y1="385.48" x2="569" y2="385.48" stroke="#6e2626" stroke-width="1.0"/>
<text x="557.5" y="384.38" font-size="8.6" fill="#4a1f1f" text-anchor="middle" textLength="7.6" lengthAdjust="spacingAndGlyphs">11</text>
<text x="572.8" y="388.28" font-size="8.6" fill="#2a8782" text-anchor="start" textLength="13.65" lengthAdjust="spacingAndGlyphs">MS2</text>
<text x="614.5" y="388.28" font-size="8.6" fill="#2a8782" text-anchor="end" textLength="8.4" lengthAdjust="spacingAndGlyphs">2B</text>
<line x1="617.7" y1="385.48" x2="642.3" y2="385.48" stroke="#6e2626" stroke-width="1.0"/>
<text x="630.2" y="384.38" font-size="8.6" fill="#4a1f1f" text-anchor="middle" textLength="4" lengthAdjust="spacingAndGlyphs">6</text>
<line x1="544" y1="393.67" x2="569" y2="393.67" stroke="#6e2626" stroke-width="1.0"/>
<text x="557.5" y="392.57" font-size="8.6" fill="#4a1f1f" text-anchor="middle" textLength="7.6" lengthAdjust="spacingAndGlyphs">12</text>
<text x="572.8" y="396.47" font-size="8.6" fill="#2a8782" text-anchor="start" textLength="13.65" lengthAdjust="spacingAndGlyphs">MS3</text>
<text x="614.5" y="396.47" font-size="8.6" fill="#2a8782" text-anchor="end" textLength="8.4" lengthAdjust="spacingAndGlyphs">2A</text>
<line x1="617.7" y1="393.67" x2="642.3" y2="393.67" stroke="#6e2626" stroke-width="1.0"/>
<text x="630.2" y="392.57" font-size="8.6" fill="#4a1f1f" text-anchor="middle" textLength="4" lengthAdjust="spacingAndGlyphs">5</text>
<line x1="544" y1="401.86" x2="563.6" y2="401.86" stroke="#6e2626" stroke-width="1.0"/>
<circle cx="566" cy="401.86" r="2.4" fill="#fff" stroke="#6e2626" stroke-width="0.9"/>
<text x="557.5" y="400.76" font-size="8.6" fill="#4a1f1f" text-anchor="middle" textLength="7.6" lengthAdjust="spacingAndGlyphs">13</text>
<text x="572.8" y="404.66" font-size="8.6" fill="#2a8782" text-anchor="start" textLength="13.65" lengthAdjust="spacingAndGlyphs">RST</text>
<text x="614.5" y="404.66" font-size="8.6" fill="#2a8782" text-anchor="end" textLength="8.4" lengthAdjust="spacingAndGlyphs">1A</text>
<line x1="617.7" y1="401.86" x2="642.3" y2="401.86" stroke="#6e2626" stroke-width="1.0"/>
<text x="630.2" y="400.76" font-size="8.6" fill="#4a1f1f" text-anchor="middle" textLength="4" lengthAdjust="spacingAndGlyphs">4</text>
<line x1="544" y1="410.05" x2="563.6" y2="410.05" stroke="#6e2626" stroke-width="1.0"/>
<circle cx="566" cy="410.05" r="2.4" fill="#fff" stroke="#6e2626" stroke-width="0.9"/>
<text x="557.5" y="408.95" font-size="8.6" fill="#4a1f1f" text-anchor="middle" textLength="7.6" lengthAdjust="spacingAndGlyphs">14</text>
<text x="572.8" y="412.85" font-size="8.6" fill="#2a8782" text-anchor="start" textLength="13.65" lengthAdjust="spacingAndGlyphs">SLP</text>
<text x="614.5" y="412.85" font-size="8.6" fill="#2a8782" text-anchor="end" textLength="8.4" lengthAdjust="spacingAndGlyphs">1B</text>
<line x1="617.7" y1="410.05" x2="642.3" y2="410.05" stroke="#6e2626" stroke-width="1.0"/>
<text x="630.2" y="408.95" font-size="8.6" fill="#4a1f1f" text-anchor="middle" textLength="4" lengthAdjust="spacingAndGlyphs">3</text>
<line x1="544" y1="418.24" x2="569" y2="418.24" stroke="#6e2626" stroke-width="1.0"/>
<text x="557.5" y="417.14" font-size="8.6" fill="#4a1f1f" text-anchor="middle" textLength="7.6" lengthAdjust="spacingAndGlyphs">15</text>
<text x="572.8" y="421.04" font-size="8.6" fill="#2a8782" text-anchor="start" textLength="18.4" lengthAdjust="spacingAndGlyphs">STEP</text>
<text x="614.5" y="421.04" font-size="8.6" fill="#2a8782" text-anchor="end" textLength="12.9" lengthAdjust="spacingAndGlyphs">VDD</text>
<line x1="617.7" y1="418.24" x2="642.3" y2="418.24" stroke="#6e2626" stroke-width="1.0"/>
<text x="630.2" y="417.14" font-size="8.6" fill="#4a1f1f" text-anchor="middle" textLength="4" lengthAdjust="spacingAndGlyphs">2</text>
<line x1="544" y1="426.43" x2="569" y2="426.43" stroke="#6e2626" stroke-width="1.0"/>
<text x="557.5" y="425.33" font-size="8.6" fill="#4a1f1f" text-anchor="middle" textLength="7.6" lengthAdjust="spacingAndGlyphs">16</text>
<text x="572.8" y="429.23" font-size="8.6" fill="#2a8782" text-anchor="start" textLength="13.65" lengthAdjust="spacingAndGlyphs">DIR</text>
<text x="614.5" y="429.23" font-size="8.6" fill="#2a8782" text-anchor="end" textLength="12.9" lengthAdjust="spacingAndGlyphs">GND</text>
<line x1="617.7" y1="426.43" x2="642.3" y2="426.43" stroke="#6e2626" stroke-width="1.0"/>
<text x="630.2" y="425.33" font-size="8.6" fill="#4a1f1f" text-anchor="middle" textLength="4" lengthAdjust="spacingAndGlyphs">1</text>
<text x="596" y="397.76" font-size="6.0" fill="#2a8782" text-anchor="middle" textLength="26" lengthAdjust="spacingAndGlyphs" font-weight="bold" transform="rotate(-90 596 397.76)">MotorDrv</text>
<text x="593.5" y="439.03" font-size="8.6" fill="#2a8782" text-anchor="middle" textLength="32.2" lengthAdjust="spacingAndGlyphs">A-Axis1</text>
<polyline points="645.8,62 645.8,55 674.9,55" fill="none" stroke="#4a9a4a" stroke-width="1.0"/>
<line x1="645.8" y1="62" x2="645.8" y2="55" stroke="#6e2626" stroke-width="1.0"/>
<line x1="645.8" y1="70.19" x2="658" y2="70.19" stroke="#6e2626" stroke-width="1.0"/>
<polygon points="674.9,54.5 677.5,50 702.5,50 702.5,59 677.5,59" fill="#fff" stroke="#6e2626" stroke-width="1.05"/>
<text x="690" y="57.14" font-size="8.0" fill="#48201f" text-anchor="middle" textLength="23" lengthAdjust="spacingAndGlyphs">EXT-V</text>
<polygon points="645.8,78.38 648.4,74.28 665.6,74.28 665.6,82.48 648.4,82.48" fill="#fff" stroke="#6e2626" stroke-width="1.05"/>
<text x="657" y="81.02" font-size="8.0" fill="#48201f" text-anchor="middle" textLength="15.2" lengthAdjust="spacingAndGlyphs">SZ1</text>
<polygon points="645.8,86.57 648.4,82.47 665.6,82.47 665.6,90.67 648.4,90.67" fill="#fff" stroke="#6e2626" stroke-width="1.05"/>
<text x="657" y="89.21" font-size="8.0" fill="#48201f" text-anchor="middle" textLength="15.2" lengthAdjust="spacingAndGlyphs">SZ2</text>
<polygon points="645.8,94.76 648.4,90.66 665.6,90.66 665.6,98.86 648.4,98.86" fill="#fff" stroke="#6e2626" stroke-width="1.05"/>
<text x="657" y="97.4" font-size="8.0" fill="#48201f" text-anchor="middle" textLength="15.2" lengthAdjust="spacingAndGlyphs">SZ3</text>
<polygon points="645.8,102.95 648.4,98.85 665.6,98.85 665.6,107.05 648.4,107.05" fill="#fff" stroke="#6e2626" stroke-width="1.05"/>
<text x="657" y="105.59" font-size="8.0" fill="#48201f" text-anchor="middle" textLength="15.2" lengthAdjust="spacingAndGlyphs">SZ4</text>
<line x1="658" y1="54.5" x2="658" y2="119.33" stroke="#2f7f2f" stroke-width="1.1"/>
<circle cx="658" cy="54.5" r="1.1" fill="#3a7a2a"/>
<circle cx="658" cy="119.33" r="1.1" fill="#3a7a2a"/>
<rect x="653.2" y="59.8" width="9.6" height="6.6" fill="#fff" stroke="#e8a0a0" stroke-width="0.7"/>
<rect x="653.6" y="60.6" width="8.8" height="5" fill="#b01818"/>
<text x="661" y="59.4" font-size="4.5" fill="#2a8782" text-anchor="start">C?</text>
<text x="660.5" y="71.79" font-size="5" fill="#2a8782" text-anchor="start" textLength="16" lengthAdjust="spacingAndGlyphs" font-weight="bold">CPSMALL</text>
<line x1="645.8" y1="111.14" x2="721" y2="111.14" stroke="#4a9a4a" stroke-width="1.0"/>
<polygon points="721,111.64 723.6,107.54 733.2,107.54 733.2,115.74 723.6,115.74" fill="#fff" stroke="#6e2626" stroke-width="1.05"/>
<text x="728.4" y="114.28" font-size="8.0" fill="#48201f" text-anchor="middle" textLength="7.6" lengthAdjust="spacingAndGlyphs">5V</text>
<line x1="645.8" y1="119.33" x2="688" y2="119.33" stroke="#4a9a4a" stroke-width="1.0"/>
<polygon points="688,119.63 690.6,115.23 706.2,115.23 706.2,124.03 690.6,124.03" fill="#fff" stroke="#6e2626" stroke-width="1.05"/>
<text x="698.4" y="122.27" font-size="8.0" fill="#48201f" text-anchor="middle" textLength="13.6" lengthAdjust="spacingAndGlyphs">GND</text>
<polygon points="717.5,74.28 735,74.28 737.6,78.38 735,82.48 717.5,82.48" fill="#fff" stroke="#6e2626" stroke-width="1.05"/>
<text x="726.25" y="81.02" font-size="8.0" fill="#48201f" text-anchor="middle" textLength="15.5" lengthAdjust="spacingAndGlyphs">SZ1</text>
<line x1="737.6" y1="78.38" x2="750.6" y2="78.38" stroke="#6e2626" stroke-width="1.0"/>
<text x="746" y="77.18" font-size="6.6" fill="#4a1f1f" text-anchor="middle">1</text>
<circle cx="753" cy="78.38" r="2.4" fill="#fff" stroke="#6e2626" stroke-width="0.9"/>
<polygon points="717.5,82.47 735,82.47 737.6,86.57 735,90.67 717.5,90.67" fill="#fff" stroke="#6e2626" stroke-width="1.05"/>
<text x="726.25" y="89.21" font-size="8.0" fill="#48201f" text-anchor="middle" textLength="15.5" lengthAdjust="spacingAndGlyphs">SZ2</text>
<line x1="737.6" y1="86.57" x2="750.6" y2="86.57" stroke="#6e2626" stroke-width="1.0"/>
<text x="746" y="85.37" font-size="6.6" fill="#4a1f1f" text-anchor="middle">2</text>
<circle cx="753" cy="86.57" r="2.4" fill="#fff" stroke="#6e2626" stroke-width="0.9"/>
<polygon points="717.5,90.66 735,90.66 737.6,94.76 735,98.86 717.5,98.86" fill="#fff" stroke="#6e2626" stroke-width="1.05"/>
<text x="726.25" y="97.4" font-size="8.0" fill="#48201f" text-anchor="middle" textLength="15.5" lengthAdjust="spacingAndGlyphs">SZ3</text>
<line x1="737.6" y1="94.76" x2="750.6" y2="94.76" stroke="#6e2626" stroke-width="1.0"/>
<text x="746" y="93.56" font-size="6.6" fill="#4a1f1f" text-anchor="middle">3</text>
<circle cx="753" cy="94.76" r="2.4" fill="#fff" stroke="#6e2626" stroke-width="0.9"/>
<polygon points="717.5,98.85 735,98.85 737.6,102.95 735,107.05 717.5,107.05" fill="#fff" stroke="#6e2626" stroke-width="1.05"/>
<text x="726.25" y="105.59" font-size="8.0" fill="#48201f" text-anchor="middle" textLength="15.5" lengthAdjust="spacingAndGlyphs">SZ4</text>
<line x1="737.6" y1="102.95" x2="750.6" y2="102.95" stroke="#6e2626" stroke-width="1.0"/>
<text x="746" y="101.75" font-size="6.6" fill="#4a1f1f" text-anchor="middle">4</text>
<circle cx="753" cy="102.95" r="2.4" fill="#fff" stroke="#6e2626" stroke-width="0.9"/>
<rect x="756.2" y="74.38" width="16.3" height="32.97" fill="none" stroke="#6e2626" stroke-width="1.0"/>
<text x="763.44" y="90.66" font-size="7.6" fill="#2a8782" text-anchor="middle" textLength="17.5" lengthAdjust="spacingAndGlyphs" transform="rotate(-90 763.44 90.66)">SMLZ1</text>
<text x="770.52" y="90.66" font-size="7.0" fill="#2a8782" text-anchor="middle" textLength="18" lengthAdjust="spacingAndGlyphs" transform="rotate(-90 770.52 90.66)">Z-MTR</text>
<polyline points="645.8,172.7 645.8,165.7 679,165.7" fill="none" stroke="#4a9a4a" stroke-width="1.0"/>
<line x1="645.8" y1="172.7" x2="645.8" y2="165.7" stroke="#6e2626" stroke-width="1.0"/>
<line x1="645.8" y1="180.89" x2="658" y2="180.89" stroke="#6e2626" stroke-width="1.0"/>
<polygon points="679,165.2 681.6,160.7 706.7,160.7 706.7,169.7 681.6,169.7" fill="#fff" stroke="#6e2626" stroke-width="1.05"/>
<text x="694.15" y="167.84" font-size="8.0" fill="#48201f" text-anchor="middle" textLength="23.1" lengthAdjust="spacingAndGlyphs">EXT-V</text>
<polygon points="645.8,189.08 648.4,184.98 665.6,184.98 665.6,193.18 648.4,193.18" fill="#fff" stroke="#6e2626" stroke-width="1.05"/>
<text x="657" y="191.72" font-size="8.0" fill="#48201f" text-anchor="middle" textLength="15.2" lengthAdjust="spacingAndGlyphs">SY1</text>
<polygon points="645.8,197.27 648.4,193.17 665.6,193.17 665.6,201.37 648.4,201.37" fill="#fff" stroke="#6e2626" stroke-width="1.05"/>
<text x="657" y="199.91" font-size="8.0" fill="#48201f" text-anchor="middle" textLength="15.2" lengthAdjust="spacingAndGlyphs">SY2</text>
<polygon points="645.8,205.46 648.4,201.36 665.6,201.36 665.6,209.56 648.4,209.56" fill="#fff" stroke="#6e2626" stroke-width="1.05"/>
<text x="657" y="208.1" font-size="8.0" fill="#48201f" text-anchor="middle" textLength="15.2" lengthAdjust="spacingAndGlyphs">SY3</text>
<polygon points="645.8,213.65 648.4,209.55 665.6,209.55 665.6,217.75 648.4,217.75" fill="#fff" stroke="#6e2626" stroke-width="1.05"/>
<text x="657" y="216.29" font-size="8.0" fill="#48201f" text-anchor="middle" textLength="15.2" lengthAdjust="spacingAndGlyphs">SY4</text>
<line x1="658" y1="165.2" x2="658" y2="230.03" stroke="#2f7f2f" stroke-width="1.1"/>
<circle cx="658" cy="165.2" r="1.1" fill="#3a7a2a"/>
<circle cx="658" cy="230.03" r="1.1" fill="#3a7a2a"/>
<rect x="653.2" y="170.5" width="9.6" height="6.6" fill="#fff" stroke="#e8a0a0" stroke-width="0.7"/>
<rect x="653.6" y="171.3" width="8.8" height="5" fill="#b01818"/>
<text x="661" y="170.1" font-size="4.5" fill="#2a8782" text-anchor="start">C?</text>
<text x="660.5" y="182.49" font-size="5" fill="#2a8782" text-anchor="start" textLength="16" lengthAdjust="spacingAndGlyphs" font-weight="bold">CPSMALL</text>
<line x1="645.8" y1="221.84" x2="720.5" y2="221.84" stroke="#4a9a4a" stroke-width="1.0"/>
<polygon points="720.5,222.34 723.1,218.24 733.2,218.24 733.2,226.44 723.1,226.44" fill="#fff" stroke="#6e2626" stroke-width="1.05"/>
<text x="728.15" y="224.98" font-size="8.0" fill="#48201f" text-anchor="middle" textLength="8.1" lengthAdjust="spacingAndGlyphs">5V</text>
<line x1="645.8" y1="230.03" x2="691.3" y2="230.03" stroke="#4a9a4a" stroke-width="1.0"/>
<polygon points="691.3,230.33 693.9,225.93 712,225.93 712,234.73 693.9,234.73" fill="#fff" stroke="#6e2626" stroke-width="1.05"/>
<text x="702.95" y="232.97" font-size="8.0" fill="#48201f" text-anchor="middle" textLength="16.1" lengthAdjust="spacingAndGlyphs">GND</text>
<polygon points="717.5,184.98 735,184.98 737.6,189.08 735,193.18 717.5,193.18" fill="#fff" stroke="#6e2626" stroke-width="1.05"/>
<text x="726.25" y="191.72" font-size="8.0" fill="#48201f" text-anchor="middle" textLength="15.5" lengthAdjust="spacingAndGlyphs">SY1</text>
<line x1="737.6" y1="189.08" x2="750.6" y2="189.08" stroke="#6e2626" stroke-width="1.0"/>
<text x="746" y="187.88" font-size="6.6" fill="#4a1f1f" text-anchor="middle">1</text>
<circle cx="753" cy="189.08" r="2.4" fill="#fff" stroke="#6e2626" stroke-width="0.9"/>
<polygon points="717.5,193.17 735,193.17 737.6,197.27 735,201.37 717.5,201.37" fill="#fff" stroke="#6e2626" stroke-width="1.05"/>
<text x="726.25" y="199.91" font-size="8.0" fill="#48201f" text-anchor="middle" textLength="15.5" lengthAdjust="spacingAndGlyphs">SY2</text>
<line x1="737.6" y1="197.27" x2="750.6" y2="197.27" stroke="#6e2626" stroke-width="1.0"/>
<text x="746" y="196.07" font-size="6.6" fill="#4a1f1f" text-anchor="middle">2</text>
<circle cx="753" cy="197.27" r="2.4" fill="#fff" stroke="#6e2626" stroke-width="0.9"/>
<polygon points="717.5,201.36 735,201.36 737.6,205.46 735,209.56 717.5,209.56" fill="#fff" stroke="#6e2626" stroke-width="1.05"/>
<text x="726.25" y="208.1" font-size="8.0" fill="#48201f" text-anchor="middle" textLength="15.5" lengthAdjust="spacingAndGlyphs">SY3</text>
<line x1="737.6" y1="205.46" x2="750.6" y2="205.46" stroke="#6e2626" stroke-width="1.0"/>
<text x="746" y="204.26" font-size="6.6" fill="#4a1f1f" text-anchor="middle">3</text>
<circle cx="753" cy="205.46" r="2.4" fill="#fff" stroke="#6e2626" stroke-width="0.9"/>
<polygon points="717.5,209.55 735,209.55 737.6,213.65 735,217.75 717.5,217.75" fill="#fff" stroke="#6e2626" stroke-width="1.05"/>
<text x="726.25" y="216.29" font-size="8.0" fill="#48201f" text-anchor="middle" textLength="15.5" lengthAdjust="spacingAndGlyphs">SY4</text>
<line x1="737.6" y1="213.65" x2="750.6" y2="213.65" stroke="#6e2626" stroke-width="1.0"/>
<text x="746" y="212.45" font-size="6.6" fill="#4a1f1f" text-anchor="middle">4</text>
<circle cx="753" cy="213.65" r="2.4" fill="#fff" stroke="#6e2626" stroke-width="0.9"/>
<rect x="756.2" y="185.08" width="16.3" height="32.97" fill="none" stroke="#6e2626" stroke-width="1.0"/>
<text x="763.44" y="201.36" font-size="7.6" fill="#2a8782" text-anchor="middle" textLength="17.5" lengthAdjust="spacingAndGlyphs" transform="rotate(-90 763.44 201.36)">SMLY1</text>
<text x="770.52" y="201.36" font-size="7.0" fill="#2a8782" text-anchor="middle" textLength="18" lengthAdjust="spacingAndGlyphs" transform="rotate(-90 770.52 201.36)">Y-MTR</text>
<polyline points="642.3,266.4 642.3,259.4 680,259.4" fill="none" stroke="#4a9a4a" stroke-width="1.0"/>
<line x1="642.3" y1="266.4" x2="642.3" y2="259.4" stroke="#6e2626" stroke-width="1.0"/>
<line x1="642.3" y1="274.59" x2="654.5" y2="274.59" stroke="#6e2626" stroke-width="1.0"/>
<polygon points="680,258.9 682.6,254.4 707,254.4 707,263.4 682.6,263.4" fill="#fff" stroke="#6e2626" stroke-width="1.05"/>
<text x="694.8" y="261.54" font-size="8.0" fill="#48201f" text-anchor="middle" textLength="22.4" lengthAdjust="spacingAndGlyphs">EXT-V</text>
<polygon points="642.3,282.78 644.9,278.68 662.1,278.68 662.1,286.88 644.9,286.88" fill="#fff" stroke="#6e2626" stroke-width="1.05"/>
<text x="653.5" y="285.42" font-size="8.0" fill="#48201f" text-anchor="middle" textLength="15.2" lengthAdjust="spacingAndGlyphs">SX1</text>
<polygon points="642.3,290.97 644.9,286.87 662.1,286.87 662.1,295.07 644.9,295.07" fill="#fff" stroke="#6e2626" stroke-width="1.05"/>
<text x="653.5" y="293.61" font-size="8.0" fill="#48201f" text-anchor="middle" textLength="15.2" lengthAdjust="spacingAndGlyphs">SX2</text>
<polygon points="642.3,299.16 644.9,295.06 662.1,295.06 662.1,303.26 644.9,303.26" fill="#fff" stroke="#6e2626" stroke-width="1.05"/>
<text x="653.5" y="301.8" font-size="8.0" fill="#48201f" text-anchor="middle" textLength="15.2" lengthAdjust="spacingAndGlyphs">SX3</text>
<polygon points="642.3,307.35 644.9,303.25 662.1,303.25 662.1,311.45 644.9,311.45" fill="#fff" stroke="#6e2626" stroke-width="1.05"/>
<text x="653.5" y="309.99" font-size="8.0" fill="#48201f" text-anchor="middle" textLength="15.2" lengthAdjust="spacingAndGlyphs">SX4</text>
<line x1="654.5" y1="258.9" x2="654.5" y2="323.73" stroke="#2f7f2f" stroke-width="1.1"/>
<circle cx="654.5" cy="258.9" r="1.1" fill="#3a7a2a"/>
<circle cx="654.5" cy="323.73" r="1.1" fill="#3a7a2a"/>
<rect x="649.7" y="264.2" width="9.6" height="6.6" fill="#fff" stroke="#e8a0a0" stroke-width="0.7"/>
<rect x="650.1" y="265" width="8.8" height="5" fill="#b01818"/>
<text x="657.5" y="263.8" font-size="4.5" fill="#2a8782" text-anchor="start">C?</text>
<text x="657" y="276.19" font-size="5" fill="#2a8782" text-anchor="start" textLength="16" lengthAdjust="spacingAndGlyphs" font-weight="bold">CPSMALL</text>
<line x1="642.3" y1="315.54" x2="720.7" y2="315.54" stroke="#4a9a4a" stroke-width="1.0"/>
<polygon points="720.7,316.04 723.3,311.94 733.2,311.94 733.2,320.14 723.3,320.14" fill="#fff" stroke="#6e2626" stroke-width="1.05"/>
<text x="728.25" y="318.68" font-size="8.0" fill="#48201f" text-anchor="middle" textLength="7.9" lengthAdjust="spacingAndGlyphs">5V</text>
<line x1="642.3" y1="323.73" x2="692" y2="323.73" stroke="#4a9a4a" stroke-width="1.0"/>
<polygon points="692,324.03 694.6,319.63 711.2,319.63 711.2,328.43 694.6,328.43" fill="#fff" stroke="#6e2626" stroke-width="1.05"/>
<text x="702.9" y="326.67" font-size="8.0" fill="#48201f" text-anchor="middle" textLength="14.6" lengthAdjust="spacingAndGlyphs">GND</text>
<polygon points="713.7,278.68 731.2,278.68 733.8,282.78 731.2,286.88 713.7,286.88" fill="#fff" stroke="#6e2626" stroke-width="1.05"/>
<text x="722.45" y="285.42" font-size="8.0" fill="#48201f" text-anchor="middle" textLength="15.5" lengthAdjust="spacingAndGlyphs">SX1</text>
<line x1="733.8" y1="282.78" x2="746.9" y2="282.78" stroke="#6e2626" stroke-width="1.0"/>
<text x="742.3" y="281.58" font-size="6.6" fill="#4a1f1f" text-anchor="middle">1</text>
<circle cx="749.3" cy="282.78" r="2.4" fill="#fff" stroke="#6e2626" stroke-width="0.9"/>
<polygon points="713.7,286.87 731.2,286.87 733.8,290.97 731.2,295.07 713.7,295.07" fill="#fff" stroke="#6e2626" stroke-width="1.05"/>
<text x="722.45" y="293.61" font-size="8.0" fill="#48201f" text-anchor="middle" textLength="15.5" lengthAdjust="spacingAndGlyphs">SX2</text>
<line x1="733.8" y1="290.97" x2="746.9" y2="290.97" stroke="#6e2626" stroke-width="1.0"/>
<text x="742.3" y="289.77" font-size="6.6" fill="#4a1f1f" text-anchor="middle">2</text>
<circle cx="749.3" cy="290.97" r="2.4" fill="#fff" stroke="#6e2626" stroke-width="0.9"/>
<polygon points="713.7,295.06 731.2,295.06 733.8,299.16 731.2,303.26 713.7,303.26" fill="#fff" stroke="#6e2626" stroke-width="1.05"/>
<text x="722.45" y="301.8" font-size="8.0" fill="#48201f" text-anchor="middle" textLength="15.5" lengthAdjust="spacingAndGlyphs">SX3</text>
<line x1="733.8" y1="299.16" x2="746.9" y2="299.16" stroke="#6e2626" stroke-width="1.0"/>
<text x="742.3" y="297.96" font-size="6.6" fill="#4a1f1f" text-anchor="middle">3</text>
<circle cx="749.3" cy="299.16" r="2.4" fill="#fff" stroke="#6e2626" stroke-width="0.9"/>
<polygon points="713.7,303.25 731.2,303.25 733.8,307.35 731.2,311.45 713.7,311.45" fill="#fff" stroke="#6e2626" stroke-width="1.05"/>
<text x="722.45" y="309.99" font-size="8.0" fill="#48201f" text-anchor="middle" textLength="15.5" lengthAdjust="spacingAndGlyphs">SX4</text>
<line x1="733.8" y1="307.35" x2="746.9" y2="307.35" stroke="#6e2626" stroke-width="1.0"/>
<text x="742.3" y="306.15" font-size="6.6" fill="#4a1f1f" text-anchor="middle">4</text>
<circle cx="749.3" cy="307.35" r="2.4" fill="#fff" stroke="#6e2626" stroke-width="0.9"/>
<rect x="753" y="278.78" width="16.5" height="32.97" fill="none" stroke="#6e2626" stroke-width="1.0"/>
<text x="760.24" y="295.06" font-size="7.6" fill="#2a8782" text-anchor="middle" textLength="17.5" lengthAdjust="spacingAndGlyphs" transform="rotate(-90 760.24 295.06)">SMLX1</text>
<text x="767.32" y="295.06" font-size="7.0" fill="#2a8782" text-anchor="middle" textLength="18" lengthAdjust="spacingAndGlyphs" transform="rotate(-90 767.32 295.06)">X-MTR</text>
<polyline points="642.3,369.1 642.3,362.1 679.5,362.1" fill="none" stroke="#4a9a4a" stroke-width="1.0"/>
<line x1="642.3" y1="369.1" x2="642.3" y2="362.1" stroke="#6e2626" stroke-width="1.0"/>
<line x1="642.3" y1="377.29" x2="654.5" y2="377.29" stroke="#6e2626" stroke-width="1.0"/>
<polygon points="679.5,361.6 682.1,357.1 707,357.1 707,366.1 682.1,366.1" fill="#fff" stroke="#6e2626" stroke-width="1.05"/>
<text x="694.55" y="364.24" font-size="8.0" fill="#48201f" text-anchor="middle" textLength="22.9" lengthAdjust="spacingAndGlyphs">EXT-V</text>
<polygon points="642.3,385.48 644.9,381.38 662.1,381.38 662.1,389.58 644.9,389.58" fill="#fff" stroke="#6e2626" stroke-width="1.05"/>
<text x="653.5" y="388.12" font-size="8.0" fill="#48201f" text-anchor="middle" textLength="15.2" lengthAdjust="spacingAndGlyphs">SA1</text>
<polygon points="642.3,393.67 644.9,389.57 662.1,389.57 662.1,397.77 644.9,397.77" fill="#fff" stroke="#6e2626" stroke-width="1.05"/>
<text x="653.5" y="396.31" font-size="8.0" fill="#48201f" text-anchor="middle" textLength="15.2" lengthAdjust="spacingAndGlyphs">SA2</text>
<polygon points="642.3,401.86 644.9,397.76 662.1,397.76 662.1,405.96 644.9,405.96" fill="#fff" stroke="#6e2626" stroke-width="1.05"/>
<text x="653.5" y="404.5" font-size="8.0" fill="#48201f" text-anchor="middle" textLength="15.2" lengthAdjust="spacingAndGlyphs">SA3</text>
<polygon points="642.3,410.05 644.9,405.95 662.1,405.95 662.1,414.15 644.9,414.15" fill="#fff" stroke="#6e2626" stroke-width="1.05"/>
<text x="653.5" y="412.69" font-size="8.0" fill="#48201f" text-anchor="middle" textLength="15.2" lengthAdjust="spacingAndGlyphs">SA4</text>
<line x1="654.5" y1="361.6" x2="654.5" y2="426.43" stroke="#2f7f2f" stroke-width="1.1"/>
<circle cx="654.5" cy="361.6" r="1.1" fill="#3a7a2a"/>
<circle cx="654.5" cy="426.43" r="1.1" fill="#3a7a2a"/>
<rect x="649.7" y="366.9" width="9.6" height="6.6" fill="#fff" stroke="#e8a0a0" stroke-width="0.7"/>
<rect x="650.1" y="367.7" width="8.8" height="5" fill="#b01818"/>
<text x="657.5" y="366.5" font-size="4.5" fill="#2a8782" text-anchor="start">C?</text>
<text x="657" y="378.89" font-size="5" fill="#2a8782" text-anchor="start" textLength="16" lengthAdjust="spacingAndGlyphs" font-weight="bold">CPSMALL</text>
<line x1="642.3" y1="418.24" x2="720.5" y2="418.24" stroke="#4a9a4a" stroke-width="1.0"/>
<polygon points="720.5,418.74 723.1,414.64 733.2,414.64 733.2,422.84 723.1,422.84" fill="#fff" stroke="#6e2626" stroke-width="1.05"/>
<text x="728.15" y="421.38" font-size="8.0" fill="#48201f" text-anchor="middle" textLength="8.1" lengthAdjust="spacingAndGlyphs">5V</text>
<line x1="642.3" y1="426.43" x2="692.5" y2="426.43" stroke="#4a9a4a" stroke-width="1.0"/>
<polygon points="692.5,426.73 695.1,422.33 711.2,422.33 711.2,431.13 695.1,431.13" fill="#fff" stroke="#6e2626" stroke-width="1.05"/>
<text x="703.15" y="429.37" font-size="8.0" fill="#48201f" text-anchor="middle" textLength="14.1" lengthAdjust="spacingAndGlyphs">GND</text>
<polygon points="713.7,381.38 731.7,381.38 734.3,385.48 731.7,389.58 713.7,389.58" fill="#fff" stroke="#6e2626" stroke-width="1.05"/>
<text x="722.7" y="388.12" font-size="8.0" fill="#48201f" text-anchor="middle" textLength="16" lengthAdjust="spacingAndGlyphs">SA1</text>
<line x1="734.3" y1="385.48" x2="746.9" y2="385.48" stroke="#6e2626" stroke-width="1.0"/>
<text x="742.3" y="384.28" font-size="6.6" fill="#4a1f1f" text-anchor="middle">1</text>
<circle cx="749.3" cy="385.48" r="2.4" fill="#fff" stroke="#6e2626" stroke-width="0.9"/>
<polygon points="713.7,389.57 731.7,389.57 734.3,393.67 731.7,397.77 713.7,397.77" fill="#fff" stroke="#6e2626" stroke-width="1.05"/>
<text x="722.7" y="396.31" font-size="8.0" fill="#48201f" text-anchor="middle" textLength="16" lengthAdjust="spacingAndGlyphs">SA2</text>
<line x1="734.3" y1="393.67" x2="746.9" y2="393.67" stroke="#6e2626" stroke-width="1.0"/>
<text x="742.3" y="392.47" font-size="6.6" fill="#4a1f1f" text-anchor="middle">2</text>
<circle cx="749.3" cy="393.67" r="2.4" fill="#fff" stroke="#6e2626" stroke-width="0.9"/>
<polygon points="713.7,397.76 731.7,397.76 734.3,401.86 731.7,405.96 713.7,405.96" fill="#fff" stroke="#6e2626" stroke-width="1.05"/>
<text x="722.7" y="404.5" font-size="8.0" fill="#48201f" text-anchor="middle" textLength="16" lengthAdjust="spacingAndGlyphs">SA3</text>
<line x1="734.3" y1="401.86" x2="746.9" y2="401.86" stroke="#6e2626" stroke-width="1.0"/>
<text x="742.3" y="400.66" font-size="6.6" fill="#4a1f1f" text-anchor="middle">3</text>
<circle cx="749.3" cy="401.86" r="2.4" fill="#fff" stroke="#6e2626" stroke-width="0.9"/>
<polygon points="713.7,405.95 731.7,405.95 734.3,410.05 731.7,414.15 713.7,414.15" fill="#fff" stroke="#6e2626" stroke-width="1.05"/>
<text x="722.7" y="412.69" font-size="8.0" fill="#48201f" text-anchor="middle" textLength="16" lengthAdjust="spacingAndGlyphs">SA4</text>
<line x1="734.3" y1="410.05" x2="746.9" y2="410.05" stroke="#6e2626" stroke-width="1.0"/>
<text x="742.3" y="408.85" font-size="6.6" fill="#4a1f1f" text-anchor="middle">4</text>
<circle cx="749.3" cy="410.05" r="2.4" fill="#fff" stroke="#6e2626" stroke-width="0.9"/>
<rect x="753" y="381.48" width="16.5" height="32.97" fill="none" stroke="#6e2626" stroke-width="1.0"/>
<text x="760.24" y="397.76" font-size="7.6" fill="#2a8782" text-anchor="middle" textLength="17.5" lengthAdjust="spacingAndGlyphs" transform="rotate(-90 760.24 397.76)">SMLA1</text>
<text x="767.32" y="397.76" font-size="7.0" fill="#2a8782" text-anchor="middle" textLength="18" lengthAdjust="spacingAndGlyphs" transform="rotate(-90 767.32 397.76)">A-MTR</text>
<polygon points="534.8,57.9 546,57.9 548.6,62.4 546,66.9 534.8,66.9" fill="#fff" stroke="#6e2626" stroke-width="1.05"/>
<text x="540.4" y="65.04" font-size="8.0" fill="#48201f" text-anchor="middle" textLength="9.2" lengthAdjust="spacingAndGlyphs">EN</text>
<polygon points="515,106.9 546.2,106.9 548.8,111 546.2,115.1 515,115.1" fill="#fff" stroke="#6e2626" stroke-width="1.05"/>
<text x="530.6" y="113.64" font-size="8.0" fill="#48201f" text-anchor="middle" textLength="29.2" lengthAdjust="spacingAndGlyphs">Z-STEP</text>
<polygon points="520.8,115.3 546.2,115.3 548.8,119.6 546.2,123.9 520.8,123.9" fill="#fff" stroke="#6e2626" stroke-width="1.5"/>
<text x="533.5" y="122.24" font-size="8.0" fill="#48201f" text-anchor="middle" textLength="23.4" lengthAdjust="spacingAndGlyphs">Z-DIR</text>
<line x1="547.6" y1="94.76" x2="547.6" y2="102.95" stroke="#6e2626" stroke-width="1.0"/>
<rect x="474.7" y="34" width="16.7" height="24.4" fill="none" stroke="#6e2626" stroke-width="1.0"/>
<text x="480.92" y="46.3" font-size="7.0" fill="#2a8782" text-anchor="middle" textLength="20" lengthAdjust="spacingAndGlyphs" transform="rotate(-90 480.92 46.3)">CONN_3</text>
<text x="490.22" y="46.3" font-size="7.0" fill="#2a8782" text-anchor="middle" textLength="34" lengthAdjust="spacingAndGlyphs" transform="rotate(-90 490.22 46.3)">Jpr-Z-5V1</text>
<circle cx="494" cy="38" r="2.4" fill="#fff" stroke="#6e2626" stroke-width="0.9"/>
<text x="501" y="36.7" font-size="8.0" fill="#4a1f1f" text-anchor="middle">3</text>
<line x1="496.4" y1="38" x2="511.4" y2="38" stroke="#6e2626" stroke-width="1.0"/>
<circle cx="494" cy="45.8" r="2.4" fill="#fff" stroke="#6e2626" stroke-width="0.9"/>
<text x="501" y="44.5" font-size="8.0" fill="#4a1f1f" text-anchor="middle">2</text>
<line x1="496.4" y1="45.8" x2="511.4" y2="45.8" stroke="#6e2626" stroke-width="1.0"/>
<circle cx="494" cy="53.6" r="2.4" fill="#fff" stroke="#6e2626" stroke-width="0.9"/>
<text x="501" y="52.3" font-size="8.0" fill="#4a1f1f" text-anchor="middle">1</text>
<line x1="496.4" y1="53.6" x2="511.4" y2="53.6" stroke="#6e2626" stroke-width="1.0"/>
<line x1="511.4" y1="38" x2="511.4" y2="53.6" stroke="#6e2626" stroke-width="1.0"/>
<circle cx="511.4" cy="45.8" r="1.0" fill="#6e2626"/>
<line x1="511.4" y1="38" x2="522.4" y2="38" stroke="#4a9a4a" stroke-width="1.0"/>
<polygon points="522.4,38 525,33.65 537.4,33.65 537.4,42.35 525,42.35" fill="#fff" stroke="#6e2626" stroke-width="1.05"/>
<text x="531.2" y="40.64" font-size="8.0" fill="#48201f" text-anchor="middle" textLength="10.4" lengthAdjust="spacingAndGlyphs">5V</text>
<rect x="474.7" y="67.5" width="16.7" height="23.5" fill="none" stroke="#6e2626" stroke-width="1.0"/>
<text x="480.92" y="79.3" font-size="7.0" fill="#2a8782" text-anchor="middle" textLength="20" lengthAdjust="spacingAndGlyphs" transform="rotate(-90 480.92 79.3)">CONN_3</text>
<text x="490.22" y="79.3" font-size="7.0" fill="#2a8782" text-anchor="middle" textLength="21" lengthAdjust="spacingAndGlyphs" transform="rotate(-90 490.22 79.3)">Jpr-Z1</text>
<circle cx="494" cy="70.19" r="2.4" fill="#fff" stroke="#6e2626" stroke-width="0.9"/>
<text x="501" y="68.89" font-size="8.0" fill="#4a1f1f" text-anchor="middle">1</text>
<line x1="496.4" y1="70.19" x2="547.5" y2="70.19" stroke="#4a9a4a" stroke-width="1.0"/>
<circle cx="494" cy="78.38" r="2.4" fill="#fff" stroke="#6e2626" stroke-width="0.9"/>
<text x="501" y="77.08" font-size="8.0" fill="#4a1f1f" text-anchor="middle">2</text>
<line x1="496.4" y1="78.38" x2="547.5" y2="78.38" stroke="#4a9a4a" stroke-width="1.0"/>
<circle cx="494" cy="86.57" r="2.4" fill="#fff" stroke="#6e2626" stroke-width="0.9"/>
<text x="501" y="85.27" font-size="8.0" fill="#4a1f1f" text-anchor="middle">3</text>
<line x1="496.4" y1="86.57" x2="547.5" y2="86.57" stroke="#4a9a4a" stroke-width="1.0"/>
<polygon points="534.3,168.25 545.2,168.25 547.8,172.7 545.2,177.15 534.3,177.15" fill="#fff" stroke="#7a5a2a" stroke-width="1.05"/>
<text x="539.75" y="175.34" font-size="8.0" fill="#48201f" text-anchor="middle" textLength="8.9" lengthAdjust="spacingAndGlyphs">EN</text>
<polygon points="515,217.84 546.2,217.84 548.8,221.84 546.2,225.84 515,225.84" fill="#fff" stroke="#6e2626" stroke-width="1.05"/>
<text x="530.6" y="224.48" font-size="8.0" fill="#48201f" text-anchor="middle" textLength="29.2" lengthAdjust="spacingAndGlyphs">Y-STEP</text>
<polygon points="521.2,225.73 546.2,225.73 548.8,230.03 546.2,234.33 521.2,234.33" fill="#fff" stroke="#6e2626" stroke-width="1.5"/>
<text x="533.7" y="232.67" font-size="8.0" fill="#48201f" text-anchor="middle" textLength="23" lengthAdjust="spacingAndGlyphs">Y-DIR</text>
<line x1="547.6" y1="205.46" x2="547.6" y2="213.65" stroke="#6e2626" stroke-width="1.0"/>
<rect x="523.5" y="124.6" width="24.5" height="15.8" fill="none" stroke="#6e2626" stroke-width="1.0"/>
<text x="535.7" y="131.3" font-size="6" fill="#2a8782" text-anchor="middle" textLength="18" lengthAdjust="spacingAndGlyphs" font-weight="bold">CONN_3</text>
<text x="535.7" y="138.8" font-size="7.6" fill="#2a8782" text-anchor="middle" textLength="21" lengthAdjust="spacingAndGlyphs">Jpr-Y1</text>
<circle cx="527.7" cy="142.9" r="2.4" fill="#fff" stroke="#6e2626" stroke-width="0.9"/>
<text x="521.5" y="150.5" font-size="7.0" fill="#6e2626" text-anchor="middle" transform="rotate(90 521.5 150.5)">3</text>
<line x1="527.7" y1="145.3" x2="527.7" y2="160.5" stroke="#6e2626" stroke-width="1.0"/>
<line x1="527.7" y1="160.5" x2="527.7" y2="197.27" stroke="#4a9a4a" stroke-width="1.0"/>
<circle cx="527.7" cy="160.5" r="0.8" fill="#6e2626"/>
<line x1="527.7" y1="197.27" x2="547.5" y2="197.27" stroke="#4a9a4a" stroke-width="1.0"/>
<circle cx="535.7" cy="142.9" r="2.4" fill="#fff" stroke="#6e2626" stroke-width="0.9"/>
<text x="529.5" y="150.5" font-size="7.0" fill="#6e2626" text-anchor="middle" transform="rotate(90 529.5 150.5)">2</text>
<line x1="535.7" y1="145.3" x2="535.7" y2="160.5" stroke="#6e2626" stroke-width="1.0"/>
<line x1="535.7" y1="160.5" x2="535.7" y2="189.08" stroke="#4a9a4a" stroke-width="1.0"/>
<circle cx="535.7" cy="160.5" r="0.8" fill="#6e2626"/>
<line x1="535.7" y1="189.08" x2="547.5" y2="189.08" stroke="#4a9a4a" stroke-width="1.0"/>
<circle cx="543.7" cy="142.9" r="2.4" fill="#fff" stroke="#6e2626" stroke-width="0.9"/>
<text x="537.5" y="150.5" font-size="7.0" fill="#6e2626" text-anchor="middle" transform="rotate(90 537.5 150.5)">1</text>
<line x1="543.7" y1="145.3" x2="543.7" y2="160.5" stroke="#6e2626" stroke-width="1.0"/>
<line x1="543.7" y1="160.5" x2="543.7" y2="180.89" stroke="#4a9a4a" stroke-width="1.0"/>
<circle cx="543.7" cy="160.5" r="0.8" fill="#6e2626"/>
<line x1="543.7" y1="180.89" x2="547.5" y2="180.89" stroke="#4a9a4a" stroke-width="1.0"/>
<rect x="553.2" y="127.8" width="23.2" height="16.5" fill="none" stroke="#6e2626" stroke-width="1.0"/>
<text x="564.8" y="134.5" font-size="6" fill="#2a8782" text-anchor="middle" textLength="18" lengthAdjust="spacingAndGlyphs" font-weight="bold">CONN_3</text>
<text x="564.8" y="142" font-size="7.6" fill="#2a8782" text-anchor="middle" textLength="29" lengthAdjust="spacingAndGlyphs">Jpr-Y-5V1</text>
<circle cx="556" cy="146.8" r="2.4" fill="#fff" stroke="#6e2626" stroke-width="0.9"/>
<text x="549.8" y="154" font-size="7.0" fill="#6e2626" text-anchor="middle" transform="rotate(90 549.8 154)">3</text>
<line x1="556" y1="149.2" x2="556" y2="164.6" stroke="#6e2626" stroke-width="1.0"/>
<circle cx="564.3" cy="146.8" r="2.4" fill="#fff" stroke="#6e2626" stroke-width="0.9"/>
<text x="558.1" y="154" font-size="7.0" fill="#6e2626" text-anchor="middle" transform="rotate(90 558.1 154)">2</text>
<line x1="564.3" y1="149.2" x2="564.3" y2="164.6" stroke="#6e2626" stroke-width="1.0"/>
<circle cx="572.3" cy="146.8" r="2.4" fill="#fff" stroke="#6e2626" stroke-width="0.9"/>
<text x="566.1" y="154" font-size="7.0" fill="#6e2626" text-anchor="middle" transform="rotate(90 566.1 154)">1</text>
<line x1="572.3" y1="149.2" x2="572.3" y2="164.6" stroke="#6e2626" stroke-width="1.0"/>
<line x1="556" y1="164.6" x2="572.3" y2="164.6" stroke="#6e2626" stroke-width="1.0"/>
<circle cx="564.3" cy="164.6" r="1.0" fill="#6e2626"/>
<circle cx="572.3" cy="164.6" r="1.0" fill="#6e2626"/>
<polyline points="572.3,164.6 582.4,164.6 582.4,152.8 588,152.8" fill="none" stroke="#4a9a4a" stroke-width="1.0"/>
<polygon points="587.9,152.8 590.5,148.6 603,148.6 603,157 590.5,157" fill="#fff" stroke="#6e2626" stroke-width="1.05"/>
<text x="596.75" y="155.44" font-size="8.0" fill="#48201f" text-anchor="middle" textLength="10.5" lengthAdjust="spacingAndGlyphs">5V</text>
<polygon points="529.5,262.75 542.9,262.75 545.5,266.9 542.9,271.05 529.5,271.05" fill="#fff" stroke="#6e2626" stroke-width="1.05"/>
<text x="536.2" y="269.54" font-size="8.0" fill="#48201f" text-anchor="middle" textLength="11.4" lengthAdjust="spacingAndGlyphs">EN</text>
<polygon points="510.6,311.54 542.6,311.54 545.2,315.54 542.6,319.54 510.6,319.54" fill="#fff" stroke="#6e2626" stroke-width="1.05"/>
<text x="526.6" y="318.18" font-size="8.0" fill="#48201f" text-anchor="middle" textLength="30" lengthAdjust="spacingAndGlyphs">X-STEP</text>
<polygon points="516.5,319.73 542.6,319.73 545.2,323.73 542.6,327.73 516.5,327.73" fill="#fff" stroke="#6e2626" stroke-width="1.4"/>
<text x="529.55" y="326.37" font-size="8.0" fill="#48201f" text-anchor="middle" textLength="24.1" lengthAdjust="spacingAndGlyphs">X-DIR</text>
<line x1="544.3" y1="299.16" x2="544.3" y2="307.35" stroke="#6e2626" stroke-width="1.0"/>
<rect x="499.7" y="271.2" width="16" height="24.4" fill="none" stroke="#6e2626" stroke-width="1.0"/>
<text x="505.92" y="283.4" font-size="7.0" fill="#2a8782" text-anchor="middle" textLength="20" lengthAdjust="spacingAndGlyphs" transform="rotate(-90 505.92 283.4)">CONN_3</text>
<text x="514.72" y="283.4" font-size="7.0" fill="#2a8782" text-anchor="middle" textLength="21" lengthAdjust="spacingAndGlyphs" transform="rotate(-90 514.72 283.4)">Jpr-X1</text>
<circle cx="518" cy="274.59" r="2.4" fill="#fff" stroke="#6e2626" stroke-width="0.9"/>
<text x="525" y="273.29" font-size="8.0" fill="#4a1f1f" text-anchor="middle">1</text>
<line x1="520.4" y1="274.59" x2="544" y2="274.59" stroke="#4a9a4a" stroke-width="1.0"/>
<circle cx="518" cy="282.78" r="2.4" fill="#fff" stroke="#6e2626" stroke-width="0.9"/>
<text x="525" y="281.48" font-size="8.0" fill="#4a1f1f" text-anchor="middle">2</text>
<line x1="520.4" y1="282.78" x2="544" y2="282.78" stroke="#4a9a4a" stroke-width="1.0"/>
<circle cx="518" cy="290.97" r="2.4" fill="#fff" stroke="#6e2626" stroke-width="0.9"/>
<text x="525" y="289.67" font-size="8.0" fill="#4a1f1f" text-anchor="middle">3</text>
<line x1="520.4" y1="290.97" x2="544" y2="290.97" stroke="#4a9a4a" stroke-width="1.0"/>
<rect x="499.7" y="328.5" width="16" height="24" fill="none" stroke="#6e2626" stroke-width="1.0"/>
<text x="505.92" y="340.5" font-size="7.0" fill="#2a8782" text-anchor="middle" textLength="20" lengthAdjust="spacingAndGlyphs" transform="rotate(-90 505.92 340.5)">CONN_3</text>
<text x="514.72" y="338" font-size="7.0" fill="#2a8782" text-anchor="middle" textLength="34" lengthAdjust="spacingAndGlyphs" transform="rotate(-90 514.72 338)">Jpr-X-5V1</text>
<circle cx="518" cy="331.9" r="2.4" fill="#fff" stroke="#6e2626" stroke-width="0.9"/>
<text x="525" y="330.6" font-size="8.0" fill="#4a1f1f" text-anchor="middle">3</text>
<line x1="520.4" y1="331.9" x2="536.3" y2="331.9" stroke="#6e2626" stroke-width="1.0"/>
<circle cx="518" cy="339.9" r="2.4" fill="#fff" stroke="#6e2626" stroke-width="0.9"/>
<text x="525" y="338.6" font-size="8.0" fill="#4a1f1f" text-anchor="middle">2</text>
<line x1="520.4" y1="339.9" x2="536.3" y2="339.9" stroke="#6e2626" stroke-width="1.0"/>
<circle cx="518" cy="347.9" r="2.4" fill="#fff" stroke="#6e2626" stroke-width="0.9"/>
<text x="525" y="346.6" font-size="8.0" fill="#4a1f1f" text-anchor="middle">1</text>
<line x1="520.4" y1="347.9" x2="536.3" y2="347.9" stroke="#6e2626" stroke-width="1.0"/>
<line x1="536.3" y1="331.9" x2="536.3" y2="347.9" stroke="#6e2626" stroke-width="1.0"/>
<circle cx="536.3" cy="339.9" r="1.0" fill="#6e2626"/>
<line x1="536.3" y1="347.9" x2="545.8" y2="347.9" stroke="#4a9a4a" stroke-width="1.0"/>
<polygon points="545.8,348.7 548.4,344.45 561.5,344.45 561.5,352.95 548.4,352.95" fill="#fff" stroke="#6e2626" stroke-width="1.05"/>
<text x="554.95" y="351.34" font-size="8.0" fill="#48201f" text-anchor="middle" textLength="11.1" lengthAdjust="spacingAndGlyphs">5V</text>
<polygon points="530,364.4 542.6,364.4 545.2,368.9 542.6,373.4 530,373.4" fill="#fff" stroke="#6e2626" stroke-width="1.05"/>
<text x="536.3" y="371.54" font-size="8.0" fill="#48201f" text-anchor="middle" textLength="10.6" lengthAdjust="spacingAndGlyphs">EN</text>
<polygon points="511.3,414.39 542.6,414.39 545.2,418.54 542.6,422.69 511.3,422.69" fill="#fff" stroke="#6e2626" stroke-width="1.05"/>
<text x="526.95" y="421.18" font-size="8.0" fill="#48201f" text-anchor="middle" textLength="29.3" lengthAdjust="spacingAndGlyphs">A-STEP</text>
<polygon points="517.5,422.63 542.6,422.63 545.2,426.93 542.6,431.23 517.5,431.23" fill="#fff" stroke="#6e2626" stroke-width="1.4"/>
<text x="530.05" y="429.57" font-size="8.0" fill="#48201f" text-anchor="middle" textLength="23.1" lengthAdjust="spacingAndGlyphs">A-DIR</text>
<line x1="545" y1="401.86" x2="545" y2="410.05" stroke="#4a9a4a" stroke-width="1.0"/>
<polygon points="432,372.2 444,372.2 446.6,377.2 444,382.2 432,382.2" fill="#fff" stroke="#6e2626" stroke-width="1.05"/>
<text x="438" y="379.84" font-size="8.0" fill="#48201f" text-anchor="middle" textLength="10" lengthAdjust="spacingAndGlyphs">5V</text>
<line x1="446.6" y1="377.2" x2="458.2" y2="377.2" stroke="#4a9a4a" stroke-width="1.0"/>
<line x1="458.2" y1="377.2" x2="458.2" y2="394.3" stroke="#4a9a4a" stroke-width="1.0"/>
<line x1="458.2" y1="377.2" x2="473.4" y2="377.2" stroke="#6e2626" stroke-width="1.0"/>
<text x="469" y="375.9" font-size="8.0" fill="#4a1f1f" text-anchor="middle">1</text>
<circle cx="475.8" cy="377.2" r="2.4" fill="#fff" stroke="#6e2626" stroke-width="0.9"/>
<line x1="458.2" y1="385.7" x2="473.4" y2="385.7" stroke="#6e2626" stroke-width="1.0"/>
<text x="469" y="384.4" font-size="8.0" fill="#4a1f1f" text-anchor="middle">2</text>
<circle cx="475.8" cy="385.7" r="2.4" fill="#fff" stroke="#6e2626" stroke-width="0.9"/>
<line x1="458.2" y1="394.3" x2="473.4" y2="394.3" stroke="#6e2626" stroke-width="1.0"/>
<text x="469" y="393" font-size="8.0" fill="#4a1f1f" text-anchor="middle">3</text>
<circle cx="475.8" cy="394.3" r="2.4" fill="#fff" stroke="#6e2626" stroke-width="0.9"/>
<circle cx="458.2" cy="385.7" r="1.0" fill="#3a7a2a"/>
<rect x="479.2" y="373" width="15.8" height="25.5" fill="none" stroke="#6e2626" stroke-width="1.0"/>
<text x="485.72" y="383" font-size="7.0" fill="#2a8782" text-anchor="middle" textLength="34" lengthAdjust="spacingAndGlyphs" transform="rotate(-90 485.72 383)">Jpr-A-5V1</text>
<text x="493.92" y="385.7" font-size="7.0" fill="#2a8782" text-anchor="middle" textLength="20" lengthAdjust="spacingAndGlyphs" transform="rotate(-90 493.92 385.7)">CONN_3</text>
<rect x="499.5" y="373" width="16.5" height="25.5" fill="none" stroke="#6e2626" stroke-width="1.0"/>
<text x="505.92" y="385.7" font-size="7.0" fill="#2a8782" text-anchor="middle" textLength="20" lengthAdjust="spacingAndGlyphs" transform="rotate(-90 505.92 385.7)">CONN_3</text>
<text x="514.72" y="385.7" font-size="7.0" fill="#2a8782" text-anchor="middle" textLength="21" lengthAdjust="spacingAndGlyphs" transform="rotate(-90 514.72 385.7)">Jpr-A1</text>
<circle cx="518.2" cy="377.2" r="2.4" fill="#fff" stroke="#6e2626" stroke-width="0.9"/>
<text x="525" y="375.9" font-size="8.0" fill="#4a1f1f" text-anchor="middle">1</text>
<line x1="520.6" y1="377.2" x2="544" y2="377.29" stroke="#4a9a4a" stroke-width="1.0"/>
<circle cx="518.2" cy="385.7" r="2.4" fill="#fff" stroke="#6e2626" stroke-width="0.9"/>
<text x="525" y="384.4" font-size="8.0" fill="#4a1f1f" text-anchor="middle">2</text>
<line x1="520.6" y1="385.7" x2="544" y2="385.48" stroke="#4a9a4a" stroke-width="1.0"/>
<circle cx="518.2" cy="394.3" r="2.4" fill="#fff" stroke="#6e2626" stroke-width="0.9"/>
<text x="525" y="393" font-size="8.0" fill="#4a1f1f" text-anchor="middle">3</text>
<line x1="520.6" y1="394.3" x2="544" y2="393.67" stroke="#4a9a4a" stroke-width="1.0"/>
</svg>
</body></html>
